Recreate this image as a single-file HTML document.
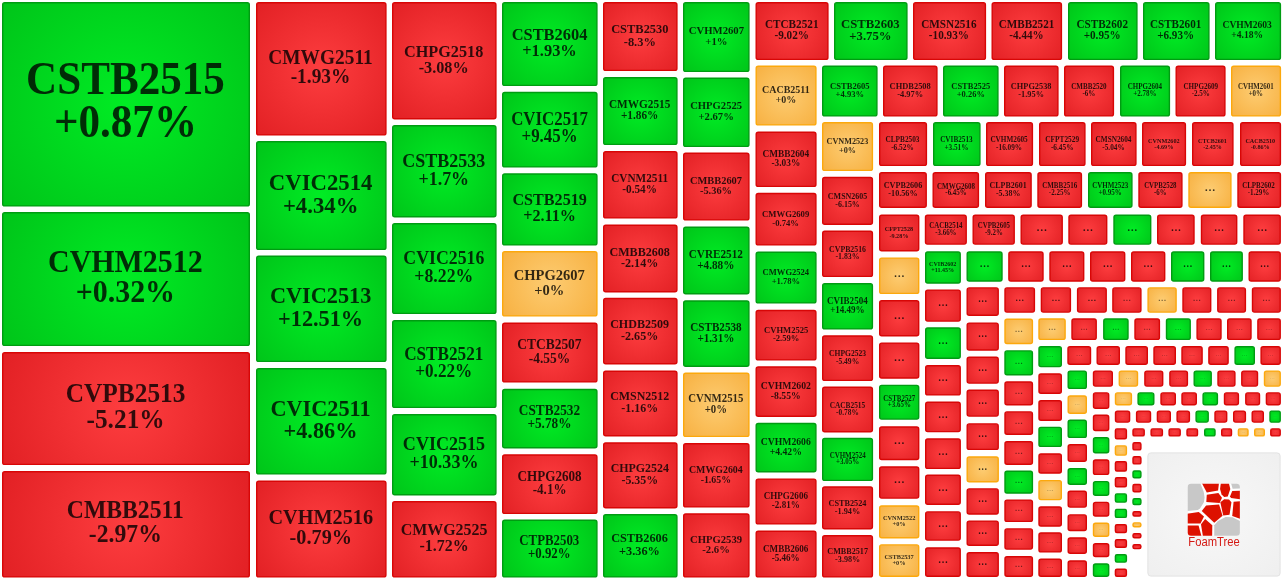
<!DOCTYPE html>
<html><head><meta charset="utf-8"><title>FoamTree</title>
<style>
html,body{margin:0;padding:0;background:#fff;overflow:hidden;}
svg{display:block;}
.t{font-family:"Liberation Serif",serif;font-weight:bold;fill:rgba(0,0,0,0.8);text-anchor:middle;}
</style></head><body>
<svg width="1285" height="579" viewBox="0 0 1285 579">
<defs>
<radialGradient id="glogo" cx="0.5" cy="0.5" r="0.72"><stop offset="0" stop-color="#f8f8f8"/><stop offset="1" stop-color="#efefef"/></radialGradient>
</defs>
<defs>
<radialGradient id="q0" gradientUnits="userSpaceOnUse" cx="126" cy="104.3" r="160.75"><stop offset="0" stop-color="#00ec24"/><stop offset="1" stop-color="#00c419"/></radialGradient>
<radialGradient id="q1" gradientUnits="userSpaceOnUse" cx="126" cy="279.05" r="140.97"><stop offset="0" stop-color="#00ec24"/><stop offset="1" stop-color="#00c419"/></radialGradient>
<radialGradient id="q2" gradientUnits="userSpaceOnUse" cx="126" cy="408.55" r="136.29"><stop offset="0" stop-color="#fd3d3f"/><stop offset="1" stop-color="#e22024"/></radialGradient>
<radialGradient id="q3" gradientUnits="userSpaceOnUse" cx="126" cy="524.3" r="134.97"><stop offset="0" stop-color="#fd3d3f"/><stop offset="1" stop-color="#e22024"/></radialGradient>
<radialGradient id="q4" gradientUnits="userSpaceOnUse" cx="321.3" cy="68.8" r="93.41"><stop offset="0" stop-color="#fd3d3f"/><stop offset="1" stop-color="#e22024"/></radialGradient>
<radialGradient id="q5" gradientUnits="userSpaceOnUse" cx="321.3" cy="195.55" r="85.09"><stop offset="0" stop-color="#00ec24"/><stop offset="1" stop-color="#00c419"/></radialGradient>
<radialGradient id="q6" gradientUnits="userSpaceOnUse" cx="321.3" cy="308.8" r="84.29"><stop offset="0" stop-color="#00ec24"/><stop offset="1" stop-color="#00c419"/></radialGradient>
<radialGradient id="q7" gradientUnits="userSpaceOnUse" cx="321.3" cy="421.3" r="84.29"><stop offset="0" stop-color="#00ec24"/><stop offset="1" stop-color="#00c419"/></radialGradient>
<radialGradient id="q8" gradientUnits="userSpaceOnUse" cx="321.3" cy="529.05" r="81.37"><stop offset="0" stop-color="#fd3d3f"/><stop offset="1" stop-color="#e22024"/></radialGradient>
<radialGradient id="q9" gradientUnits="userSpaceOnUse" cx="444.3" cy="60.7" r="78.62"><stop offset="0" stop-color="#fd3d3f"/><stop offset="1" stop-color="#e22024"/></radialGradient>
<radialGradient id="q10" gradientUnits="userSpaceOnUse" cx="444.3" cy="171.2" r="69.78"><stop offset="0" stop-color="#00ec24"/><stop offset="1" stop-color="#00c419"/></radialGradient>
<radialGradient id="q11" gradientUnits="userSpaceOnUse" cx="444.3" cy="268.55" r="69.35"><stop offset="0" stop-color="#00ec24"/><stop offset="1" stop-color="#00c419"/></radialGradient>
<radialGradient id="q12" gradientUnits="userSpaceOnUse" cx="444.3" cy="364.05" r="68.38"><stop offset="0" stop-color="#00ec24"/><stop offset="1" stop-color="#00c419"/></radialGradient>
<radialGradient id="q13" gradientUnits="userSpaceOnUse" cx="444.3" cy="454.7" r="66.27"><stop offset="0" stop-color="#00ec24"/><stop offset="1" stop-color="#00c419"/></radialGradient>
<radialGradient id="q14" gradientUnits="userSpaceOnUse" cx="444.3" cy="539.3" r="64.82"><stop offset="0" stop-color="#fd3d3f"/><stop offset="1" stop-color="#e22024"/></radialGradient>
<radialGradient id="q15" gradientUnits="userSpaceOnUse" cx="549.8" cy="44.05" r="63.66"><stop offset="0" stop-color="#00ec24"/><stop offset="1" stop-color="#00c419"/></radialGradient>
<radialGradient id="q16" gradientUnits="userSpaceOnUse" cx="549.8" cy="129.7" r="61"><stop offset="0" stop-color="#00ec24"/><stop offset="1" stop-color="#00c419"/></radialGradient>
<radialGradient id="q17" gradientUnits="userSpaceOnUse" cx="549.8" cy="209.45" r="59.93"><stop offset="0" stop-color="#00ec24"/><stop offset="1" stop-color="#00c419"/></radialGradient>
<radialGradient id="q18" gradientUnits="userSpaceOnUse" cx="549.8" cy="283.8" r="57.97"><stop offset="0" stop-color="#fdcc72"/><stop offset="1" stop-color="#f7b040"/></radialGradient>
<radialGradient id="q19" gradientUnits="userSpaceOnUse" cx="549.8" cy="352.55" r="56.46"><stop offset="0" stop-color="#fd3d3f"/><stop offset="1" stop-color="#e22024"/></radialGradient>
<radialGradient id="q20" gradientUnits="userSpaceOnUse" cx="549.8" cy="418.6" r="56.33"><stop offset="0" stop-color="#00ec24"/><stop offset="1" stop-color="#00c419"/></radialGradient>
<radialGradient id="q21" gradientUnits="userSpaceOnUse" cx="549.8" cy="484.2" r="56.38"><stop offset="0" stop-color="#fd3d3f"/><stop offset="1" stop-color="#e22024"/></radialGradient>
<radialGradient id="q22" gradientUnits="userSpaceOnUse" cx="549.8" cy="548.55" r="55.94"><stop offset="0" stop-color="#00ec24"/><stop offset="1" stop-color="#00c419"/></radialGradient>
<radialGradient id="q23" gradientUnits="userSpaceOnUse" cx="640.3" cy="36.55" r="50.84"><stop offset="0" stop-color="#fd3d3f"/><stop offset="1" stop-color="#e22024"/></radialGradient>
<radialGradient id="q24" gradientUnits="userSpaceOnUse" cx="640.3" cy="111.05" r="50.5"><stop offset="0" stop-color="#00ec24"/><stop offset="1" stop-color="#00c419"/></radialGradient>
<radialGradient id="q25" gradientUnits="userSpaceOnUse" cx="640.3" cy="184.8" r="50.34"><stop offset="0" stop-color="#fd3d3f"/><stop offset="1" stop-color="#e22024"/></radialGradient>
<radialGradient id="q26" gradientUnits="userSpaceOnUse" cx="640.3" cy="258.45" r="50.44"><stop offset="0" stop-color="#fd3d3f"/><stop offset="1" stop-color="#e22024"/></radialGradient>
<radialGradient id="q27" gradientUnits="userSpaceOnUse" cx="640.3" cy="331.1" r="50"><stop offset="0" stop-color="#fd3d3f"/><stop offset="1" stop-color="#e22024"/></radialGradient>
<radialGradient id="q28" gradientUnits="userSpaceOnUse" cx="640.3" cy="403.45" r="49.77"><stop offset="0" stop-color="#fd3d3f"/><stop offset="1" stop-color="#e22024"/></radialGradient>
<radialGradient id="q29" gradientUnits="userSpaceOnUse" cx="640.3" cy="475.35" r="49.84"><stop offset="0" stop-color="#fd3d3f"/><stop offset="1" stop-color="#e22024"/></radialGradient>
<radialGradient id="q30" gradientUnits="userSpaceOnUse" cx="640.3" cy="545.8" r="49.02"><stop offset="0" stop-color="#00ec24"/><stop offset="1" stop-color="#00c419"/></radialGradient>
<radialGradient id="q31" gradientUnits="userSpaceOnUse" cx="716.3" cy="37.05" r="48.35"><stop offset="0" stop-color="#00ec24"/><stop offset="1" stop-color="#00c419"/></radialGradient>
<radialGradient id="q32" gradientUnits="userSpaceOnUse" cx="716.3" cy="112.3" r="48.17"><stop offset="0" stop-color="#00ec24"/><stop offset="1" stop-color="#00c419"/></radialGradient>
<radialGradient id="q33" gradientUnits="userSpaceOnUse" cx="716.3" cy="186.55" r="47.63"><stop offset="0" stop-color="#fd3d3f"/><stop offset="1" stop-color="#e22024"/></radialGradient>
<radialGradient id="q34" gradientUnits="userSpaceOnUse" cx="716.3" cy="260.45" r="47.56"><stop offset="0" stop-color="#00ec24"/><stop offset="1" stop-color="#00c419"/></radialGradient>
<radialGradient id="q35" gradientUnits="userSpaceOnUse" cx="716.3" cy="333.6" r="47.09"><stop offset="0" stop-color="#00ec24"/><stop offset="1" stop-color="#00c419"/></radialGradient>
<radialGradient id="q36" gradientUnits="userSpaceOnUse" cx="716.3" cy="404.8" r="46.39"><stop offset="0" stop-color="#fdcc72"/><stop offset="1" stop-color="#f7b040"/></radialGradient>
<radialGradient id="q37" gradientUnits="userSpaceOnUse" cx="716.3" cy="475.3" r="46.39"><stop offset="0" stop-color="#fd3d3f"/><stop offset="1" stop-color="#e22024"/></radialGradient>
<radialGradient id="q38" gradientUnits="userSpaceOnUse" cx="716.3" cy="545.45" r="46.29"><stop offset="0" stop-color="#fd3d3f"/><stop offset="1" stop-color="#e22024"/></radialGradient>
<radialGradient id="q39" gradientUnits="userSpaceOnUse" cx="786.05" cy="95.55" r="42.85"><stop offset="0" stop-color="#fdcc72"/><stop offset="1" stop-color="#f7b040"/></radialGradient>
<radialGradient id="q40" gradientUnits="userSpaceOnUse" cx="786.05" cy="159.3" r="41.31"><stop offset="0" stop-color="#fd3d3f"/><stop offset="1" stop-color="#e22024"/></radialGradient>
<radialGradient id="q41" gradientUnits="userSpaceOnUse" cx="786.05" cy="219.2" r="40.38"><stop offset="0" stop-color="#fd3d3f"/><stop offset="1" stop-color="#e22024"/></radialGradient>
<radialGradient id="q42" gradientUnits="userSpaceOnUse" cx="786.05" cy="277.55" r="40.15"><stop offset="0" stop-color="#00ec24"/><stop offset="1" stop-color="#00c419"/></radialGradient>
<radialGradient id="q43" gradientUnits="userSpaceOnUse" cx="786.05" cy="335.2" r="39.73"><stop offset="0" stop-color="#fd3d3f"/><stop offset="1" stop-color="#e22024"/></radialGradient>
<radialGradient id="q44" gradientUnits="userSpaceOnUse" cx="786.05" cy="391.6" r="39.67"><stop offset="0" stop-color="#fd3d3f"/><stop offset="1" stop-color="#e22024"/></radialGradient>
<radialGradient id="q45" gradientUnits="userSpaceOnUse" cx="786.05" cy="447.65" r="39.38"><stop offset="0" stop-color="#00ec24"/><stop offset="1" stop-color="#00c419"/></radialGradient>
<radialGradient id="q46" gradientUnits="userSpaceOnUse" cx="786.05" cy="501.5" r="38.3"><stop offset="0" stop-color="#fd3d3f"/><stop offset="1" stop-color="#e22024"/></radialGradient>
<radialGradient id="q47" gradientUnits="userSpaceOnUse" cx="786.05" cy="554.05" r="38.57"><stop offset="0" stop-color="#fd3d3f"/><stop offset="1" stop-color="#e22024"/></radialGradient>
<radialGradient id="q48" gradientUnits="userSpaceOnUse" cx="847.55" cy="146.55" r="35.43"><stop offset="0" stop-color="#fdcc72"/><stop offset="1" stop-color="#f7b040"/></radialGradient>
<radialGradient id="q49" gradientUnits="userSpaceOnUse" cx="847.55" cy="200.85" r="35.09"><stop offset="0" stop-color="#fd3d3f"/><stop offset="1" stop-color="#e22024"/></radialGradient>
<radialGradient id="q50" gradientUnits="userSpaceOnUse" cx="847.55" cy="253.8" r="34.58"><stop offset="0" stop-color="#fd3d3f"/><stop offset="1" stop-color="#e22024"/></radialGradient>
<radialGradient id="q51" gradientUnits="userSpaceOnUse" cx="847.55" cy="306.3" r="34.58"><stop offset="0" stop-color="#00ec24"/><stop offset="1" stop-color="#00c419"/></radialGradient>
<radialGradient id="q52" gradientUnits="userSpaceOnUse" cx="847.55" cy="358.2" r="34.31"><stop offset="0" stop-color="#fd3d3f"/><stop offset="1" stop-color="#e22024"/></radialGradient>
<radialGradient id="q53" gradientUnits="userSpaceOnUse" cx="847.55" cy="409.45" r="34.34"><stop offset="0" stop-color="#fd3d3f"/><stop offset="1" stop-color="#e22024"/></radialGradient>
<radialGradient id="q54" gradientUnits="userSpaceOnUse" cx="847.55" cy="459.45" r="33.49"><stop offset="0" stop-color="#00ec24"/><stop offset="1" stop-color="#00c419"/></radialGradient>
<radialGradient id="q55" gradientUnits="userSpaceOnUse" cx="847.55" cy="507.85" r="33.42"><stop offset="0" stop-color="#fd3d3f"/><stop offset="1" stop-color="#e22024"/></radialGradient>
<radialGradient id="q56" gradientUnits="userSpaceOnUse" cx="847.55" cy="556.3" r="33.26"><stop offset="0" stop-color="#fd3d3f"/><stop offset="1" stop-color="#e22024"/></radialGradient>
<radialGradient id="q57" gradientUnits="userSpaceOnUse" cx="899.2" cy="232.95" r="27.36"><stop offset="0" stop-color="#fd3d3f"/><stop offset="1" stop-color="#e22024"/></radialGradient>
<radialGradient id="q58" gradientUnits="userSpaceOnUse" cx="899.2" cy="275.75" r="27.29"><stop offset="0" stop-color="#fdcc72"/><stop offset="1" stop-color="#f7b040"/></radialGradient>
<radialGradient id="q59" gradientUnits="userSpaceOnUse" cx="899.2" cy="318.25" r="27.16"><stop offset="0" stop-color="#fd3d3f"/><stop offset="1" stop-color="#e22024"/></radialGradient>
<radialGradient id="q60" gradientUnits="userSpaceOnUse" cx="899.2" cy="360.55" r="27.16"><stop offset="0" stop-color="#fd3d3f"/><stop offset="1" stop-color="#e22024"/></radialGradient>
<radialGradient id="q61" gradientUnits="userSpaceOnUse" cx="899.2" cy="402.25" r="26.76"><stop offset="0" stop-color="#00ec24"/><stop offset="1" stop-color="#00c419"/></radialGradient>
<radialGradient id="q62" gradientUnits="userSpaceOnUse" cx="899.2" cy="443.25" r="26.37"><stop offset="0" stop-color="#fd3d3f"/><stop offset="1" stop-color="#e22024"/></radialGradient>
<radialGradient id="q63" gradientUnits="userSpaceOnUse" cx="899.2" cy="482.55" r="25.92"><stop offset="0" stop-color="#fd3d3f"/><stop offset="1" stop-color="#e22024"/></radialGradient>
<radialGradient id="q64" gradientUnits="userSpaceOnUse" cx="899.2" cy="521.9" r="26.15"><stop offset="0" stop-color="#fdcc72"/><stop offset="1" stop-color="#f7b040"/></radialGradient>
<radialGradient id="q65" gradientUnits="userSpaceOnUse" cx="899.2" cy="560.6" r="26.02"><stop offset="0" stop-color="#fdcc72"/><stop offset="1" stop-color="#f7b040"/></radialGradient>
<radialGradient id="q66" gradientUnits="userSpaceOnUse" cx="942.95" cy="267.5" r="24.18"><stop offset="0" stop-color="#00ec24"/><stop offset="1" stop-color="#00c419"/></radialGradient>
<radialGradient id="q67" gradientUnits="userSpaceOnUse" cx="942.95" cy="305.6" r="24.18"><stop offset="0" stop-color="#fd3d3f"/><stop offset="1" stop-color="#e22024"/></radialGradient>
<radialGradient id="q68" gradientUnits="userSpaceOnUse" cx="942.95" cy="343.1" r="23.91"><stop offset="0" stop-color="#00ec24"/><stop offset="1" stop-color="#00c419"/></radialGradient>
<radialGradient id="q69" gradientUnits="userSpaceOnUse" cx="942.95" cy="380.3" r="23.59"><stop offset="0" stop-color="#fd3d3f"/><stop offset="1" stop-color="#e22024"/></radialGradient>
<radialGradient id="q70" gradientUnits="userSpaceOnUse" cx="942.95" cy="416.9" r="23.65"><stop offset="0" stop-color="#fd3d3f"/><stop offset="1" stop-color="#e22024"/></radialGradient>
<radialGradient id="q71" gradientUnits="userSpaceOnUse" cx="942.95" cy="453.7" r="23.65"><stop offset="0" stop-color="#fd3d3f"/><stop offset="1" stop-color="#e22024"/></radialGradient>
<radialGradient id="q72" gradientUnits="userSpaceOnUse" cx="942.95" cy="489.75" r="23.55"><stop offset="0" stop-color="#fd3d3f"/><stop offset="1" stop-color="#e22024"/></radialGradient>
<radialGradient id="q73" gradientUnits="userSpaceOnUse" cx="942.95" cy="526" r="23.26"><stop offset="0" stop-color="#fd3d3f"/><stop offset="1" stop-color="#e22024"/></radialGradient>
<radialGradient id="q74" gradientUnits="userSpaceOnUse" cx="942.95" cy="562.15" r="23.3"><stop offset="0" stop-color="#fd3d3f"/><stop offset="1" stop-color="#e22024"/></radialGradient>
<radialGradient id="q75" gradientUnits="userSpaceOnUse" cx="982.7" cy="301.6" r="21.67"><stop offset="0" stop-color="#fd3d3f"/><stop offset="1" stop-color="#e22024"/></radialGradient>
<radialGradient id="q76" gradientUnits="userSpaceOnUse" cx="982.7" cy="336.55" r="21.51"><stop offset="0" stop-color="#fd3d3f"/><stop offset="1" stop-color="#e22024"/></radialGradient>
<radialGradient id="q77" gradientUnits="userSpaceOnUse" cx="982.7" cy="370.2" r="21.15"><stop offset="0" stop-color="#fd3d3f"/><stop offset="1" stop-color="#e22024"/></radialGradient>
<radialGradient id="q78" gradientUnits="userSpaceOnUse" cx="982.7" cy="403.15" r="21.18"><stop offset="0" stop-color="#fd3d3f"/><stop offset="1" stop-color="#e22024"/></radialGradient>
<radialGradient id="q79" gradientUnits="userSpaceOnUse" cx="982.7" cy="436.65" r="21.06"><stop offset="0" stop-color="#fd3d3f"/><stop offset="1" stop-color="#e22024"/></radialGradient>
<radialGradient id="q80" gradientUnits="userSpaceOnUse" cx="982.7" cy="469.4" r="20.83"><stop offset="0" stop-color="#fdcc72"/><stop offset="1" stop-color="#f7b040"/></radialGradient>
<radialGradient id="q81" gradientUnits="userSpaceOnUse" cx="982.7" cy="501.45" r="20.93"><stop offset="0" stop-color="#fd3d3f"/><stop offset="1" stop-color="#e22024"/></radialGradient>
<radialGradient id="q82" gradientUnits="userSpaceOnUse" cx="982.7" cy="533.15" r="20.62"><stop offset="0" stop-color="#fd3d3f"/><stop offset="1" stop-color="#e22024"/></radialGradient>
<radialGradient id="q83" gradientUnits="userSpaceOnUse" cx="982.7" cy="564.5" r="20.46"><stop offset="0" stop-color="#fd3d3f"/><stop offset="1" stop-color="#e22024"/></radialGradient>
<radialGradient id="q84" gradientUnits="userSpaceOnUse" cx="1018.7" cy="331.35" r="19.3"><stop offset="0" stop-color="#fdcc72"/><stop offset="1" stop-color="#f7b040"/></radialGradient>
<radialGradient id="q85" gradientUnits="userSpaceOnUse" cx="1018.7" cy="362.85" r="19.17"><stop offset="0" stop-color="#00ec24"/><stop offset="1" stop-color="#00c419"/></radialGradient>
<radialGradient id="q86" gradientUnits="userSpaceOnUse" cx="1018.7" cy="393.4" r="18.81"><stop offset="0" stop-color="#fd3d3f"/><stop offset="1" stop-color="#e22024"/></radialGradient>
<radialGradient id="q87" gradientUnits="userSpaceOnUse" cx="1018.7" cy="423.05" r="18.65"><stop offset="0" stop-color="#fd3d3f"/><stop offset="1" stop-color="#e22024"/></radialGradient>
<radialGradient id="q88" gradientUnits="userSpaceOnUse" cx="1018.7" cy="453" r="18.68"><stop offset="0" stop-color="#fd3d3f"/><stop offset="1" stop-color="#e22024"/></radialGradient>
<radialGradient id="q89" gradientUnits="userSpaceOnUse" cx="1018.7" cy="482.15" r="18.46"><stop offset="0" stop-color="#00ec24"/><stop offset="1" stop-color="#00c419"/></radialGradient>
<radialGradient id="q90" gradientUnits="userSpaceOnUse" cx="1018.7" cy="510.75" r="18.34"><stop offset="0" stop-color="#fd3d3f"/><stop offset="1" stop-color="#e22024"/></radialGradient>
<radialGradient id="q91" gradientUnits="userSpaceOnUse" cx="1018.7" cy="539" r="18"><stop offset="0" stop-color="#fd3d3f"/><stop offset="1" stop-color="#e22024"/></radialGradient>
<radialGradient id="q92" gradientUnits="userSpaceOnUse" cx="1018.7" cy="566.55" r="17.79"><stop offset="0" stop-color="#fd3d3f"/><stop offset="1" stop-color="#e22024"/></radialGradient>
<radialGradient id="q93" gradientUnits="userSpaceOnUse" cx="1050.15" cy="356.7" r="15.9"><stop offset="0" stop-color="#00ec24"/><stop offset="1" stop-color="#00c419"/></radialGradient>
<radialGradient id="q94" gradientUnits="userSpaceOnUse" cx="1050.15" cy="383.6" r="15.7"><stop offset="0" stop-color="#fd3d3f"/><stop offset="1" stop-color="#e22024"/></radialGradient>
<radialGradient id="q95" gradientUnits="userSpaceOnUse" cx="1050.15" cy="410.5" r="15.77"><stop offset="0" stop-color="#fd3d3f"/><stop offset="1" stop-color="#e22024"/></radialGradient>
<radialGradient id="q96" gradientUnits="userSpaceOnUse" cx="1050.15" cy="436.9" r="15.64"><stop offset="0" stop-color="#00ec24"/><stop offset="1" stop-color="#00c419"/></radialGradient>
<radialGradient id="q97" gradientUnits="userSpaceOnUse" cx="1050.15" cy="463.5" r="15.64"><stop offset="0" stop-color="#fd3d3f"/><stop offset="1" stop-color="#e22024"/></radialGradient>
<radialGradient id="q98" gradientUnits="userSpaceOnUse" cx="1050.15" cy="490.1" r="15.64"><stop offset="0" stop-color="#fdcc72"/><stop offset="1" stop-color="#f7b040"/></radialGradient>
<radialGradient id="q99" gradientUnits="userSpaceOnUse" cx="1050.15" cy="516.5" r="15.64"><stop offset="0" stop-color="#fd3d3f"/><stop offset="1" stop-color="#e22024"/></radialGradient>
<radialGradient id="q100" gradientUnits="userSpaceOnUse" cx="1050.15" cy="542.45" r="15.6"><stop offset="0" stop-color="#fd3d3f"/><stop offset="1" stop-color="#e22024"/></radialGradient>
<radialGradient id="q101" gradientUnits="userSpaceOnUse" cx="1050.15" cy="567.75" r="15.03"><stop offset="0" stop-color="#fd3d3f"/><stop offset="1" stop-color="#e22024"/></radialGradient>
<radialGradient id="q102" gradientUnits="userSpaceOnUse" cx="1077.25" cy="379.75" r="13.51"><stop offset="0" stop-color="#00ec24"/><stop offset="1" stop-color="#00c419"/></radialGradient>
<radialGradient id="q103" gradientUnits="userSpaceOnUse" cx="1077.25" cy="404.6" r="13.47"><stop offset="0" stop-color="#fdcc72"/><stop offset="1" stop-color="#f7b040"/></radialGradient>
<radialGradient id="q104" gradientUnits="userSpaceOnUse" cx="1077.25" cy="428.85" r="13.44"><stop offset="0" stop-color="#00ec24"/><stop offset="1" stop-color="#00c419"/></radialGradient>
<radialGradient id="q105" gradientUnits="userSpaceOnUse" cx="1077.25" cy="453" r="13.27"><stop offset="0" stop-color="#fd3d3f"/><stop offset="1" stop-color="#e22024"/></radialGradient>
<radialGradient id="q106" gradientUnits="userSpaceOnUse" cx="1077.25" cy="476.5" r="12.93"><stop offset="0" stop-color="#00ec24"/><stop offset="1" stop-color="#00c419"/></radialGradient>
<radialGradient id="q107" gradientUnits="userSpaceOnUse" cx="1077.25" cy="499.2" r="13"><stop offset="0" stop-color="#fd3d3f"/><stop offset="1" stop-color="#e22024"/></radialGradient>
<radialGradient id="q108" gradientUnits="userSpaceOnUse" cx="1077.25" cy="522.7" r="12.93"><stop offset="0" stop-color="#fd3d3f"/><stop offset="1" stop-color="#e22024"/></radialGradient>
<radialGradient id="q109" gradientUnits="userSpaceOnUse" cx="1077.25" cy="545.65" r="12.84"><stop offset="0" stop-color="#fd3d3f"/><stop offset="1" stop-color="#e22024"/></radialGradient>
<radialGradient id="q110" gradientUnits="userSpaceOnUse" cx="1077.25" cy="568.65" r="12.84"><stop offset="0" stop-color="#fd3d3f"/><stop offset="1" stop-color="#e22024"/></radialGradient>
<radialGradient id="q111" gradientUnits="userSpaceOnUse" cx="1101.1" cy="400.55" r="11.77"><stop offset="0" stop-color="#fd3d3f"/><stop offset="1" stop-color="#e22024"/></radialGradient>
<radialGradient id="q112" gradientUnits="userSpaceOnUse" cx="1101.1" cy="422.9" r="11.74"><stop offset="0" stop-color="#fd3d3f"/><stop offset="1" stop-color="#e22024"/></radialGradient>
<radialGradient id="q113" gradientUnits="userSpaceOnUse" cx="1101.1" cy="445.2" r="11.67"><stop offset="0" stop-color="#00ec24"/><stop offset="1" stop-color="#00c419"/></radialGradient>
<radialGradient id="q114" gradientUnits="userSpaceOnUse" cx="1101.1" cy="467.2" r="11.46"><stop offset="0" stop-color="#fd3d3f"/><stop offset="1" stop-color="#e22024"/></radialGradient>
<radialGradient id="q115" gradientUnits="userSpaceOnUse" cx="1101.1" cy="488.45" r="11.22"><stop offset="0" stop-color="#00ec24"/><stop offset="1" stop-color="#00c419"/></radialGradient>
<radialGradient id="q116" gradientUnits="userSpaceOnUse" cx="1101.1" cy="509.2" r="11.19"><stop offset="0" stop-color="#fd3d3f"/><stop offset="1" stop-color="#e22024"/></radialGradient>
<radialGradient id="q117" gradientUnits="userSpaceOnUse" cx="1101.1" cy="529.8" r="10.99"><stop offset="0" stop-color="#fdcc72"/><stop offset="1" stop-color="#f7b040"/></radialGradient>
<radialGradient id="q118" gradientUnits="userSpaceOnUse" cx="1101.1" cy="550.1" r="10.92"><stop offset="0" stop-color="#fd3d3f"/><stop offset="1" stop-color="#e22024"/></radialGradient>
<radialGradient id="q119" gradientUnits="userSpaceOnUse" cx="1101.1" cy="570.15" r="10.76"><stop offset="0" stop-color="#00ec24"/><stop offset="1" stop-color="#00c419"/></radialGradient>
<radialGradient id="q120" gradientUnits="userSpaceOnUse" cx="1120.9" cy="433.85" r="8.39"><stop offset="0" stop-color="#fd3d3f"/><stop offset="1" stop-color="#e22024"/></radialGradient>
<radialGradient id="q121" gradientUnits="userSpaceOnUse" cx="1120.9" cy="450.5" r="8.16"><stop offset="0" stop-color="#fdcc72"/><stop offset="1" stop-color="#f7b040"/></radialGradient>
<radialGradient id="q122" gradientUnits="userSpaceOnUse" cx="1120.9" cy="466.4" r="8.16"><stop offset="0" stop-color="#fd3d3f"/><stop offset="1" stop-color="#e22024"/></radialGradient>
<radialGradient id="q123" gradientUnits="userSpaceOnUse" cx="1120.9" cy="482.2" r="8.09"><stop offset="0" stop-color="#fd3d3f"/><stop offset="1" stop-color="#e22024"/></radialGradient>
<radialGradient id="q124" gradientUnits="userSpaceOnUse" cx="1120.9" cy="498" r="7.84"><stop offset="0" stop-color="#00ec24"/><stop offset="1" stop-color="#00c419"/></radialGradient>
<radialGradient id="q125" gradientUnits="userSpaceOnUse" cx="1120.9" cy="513.4" r="7.78"><stop offset="0" stop-color="#00ec24"/><stop offset="1" stop-color="#00c419"/></radialGradient>
<radialGradient id="q126" gradientUnits="userSpaceOnUse" cx="1120.9" cy="528.6" r="7.72"><stop offset="0" stop-color="#fd3d3f"/><stop offset="1" stop-color="#e22024"/></radialGradient>
<radialGradient id="q127" gradientUnits="userSpaceOnUse" cx="1120.9" cy="543.45" r="7.63"><stop offset="0" stop-color="#fd3d3f"/><stop offset="1" stop-color="#e22024"/></radialGradient>
<radialGradient id="q128" gradientUnits="userSpaceOnUse" cx="1120.9" cy="558.45" r="7.57"><stop offset="0" stop-color="#00ec24"/><stop offset="1" stop-color="#00c419"/></radialGradient>
<radialGradient id="q129" gradientUnits="userSpaceOnUse" cx="1120.9" cy="572.8" r="7.49"><stop offset="0" stop-color="#fd3d3f"/><stop offset="1" stop-color="#e22024"/></radialGradient>
<radialGradient id="q130" gradientUnits="userSpaceOnUse" cx="1136.95" cy="446.35" r="6.3"><stop offset="0" stop-color="#fd3d3f"/><stop offset="1" stop-color="#e22024"/></radialGradient>
<radialGradient id="q131" gradientUnits="userSpaceOnUse" cx="1136.95" cy="460.3" r="6.33"><stop offset="0" stop-color="#fd3d3f"/><stop offset="1" stop-color="#e22024"/></radialGradient>
<radialGradient id="q132" gradientUnits="userSpaceOnUse" cx="1136.95" cy="474.4" r="6.2"><stop offset="0" stop-color="#00ec24"/><stop offset="1" stop-color="#00c419"/></radialGradient>
<radialGradient id="q133" gradientUnits="userSpaceOnUse" cx="1136.95" cy="488.1" r="6.33"><stop offset="0" stop-color="#fd3d3f"/><stop offset="1" stop-color="#e22024"/></radialGradient>
<radialGradient id="q134" gradientUnits="userSpaceOnUse" cx="1136.95" cy="501.6" r="5.88"><stop offset="0" stop-color="#00ec24"/><stop offset="1" stop-color="#00c419"/></radialGradient>
<radialGradient id="q135" gradientUnits="userSpaceOnUse" cx="1136.95" cy="513.85" r="5.45"><stop offset="0" stop-color="#fd3d3f"/><stop offset="1" stop-color="#e22024"/></radialGradient>
<radialGradient id="q136" gradientUnits="userSpaceOnUse" cx="1136.95" cy="524.85" r="5.35"><stop offset="0" stop-color="#fdcc72"/><stop offset="1" stop-color="#f7b040"/></radialGradient>
<radialGradient id="q137" gradientUnits="userSpaceOnUse" cx="1136.95" cy="535.75" r="5.35"><stop offset="0" stop-color="#fd3d3f"/><stop offset="1" stop-color="#e22024"/></radialGradient>
<radialGradient id="q138" gradientUnits="userSpaceOnUse" cx="1136.95" cy="546.65" r="5.35"><stop offset="0" stop-color="#fd3d3f"/><stop offset="1" stop-color="#e22024"/></radialGradient>
<radialGradient id="q139" gradientUnits="userSpaceOnUse" cx="792.05" cy="31.05" r="46.69"><stop offset="0" stop-color="#fd3d3f"/><stop offset="1" stop-color="#e22024"/></radialGradient>
<radialGradient id="q140" gradientUnits="userSpaceOnUse" cx="870.8" cy="31.05" r="46.88"><stop offset="0" stop-color="#00ec24"/><stop offset="1" stop-color="#00c419"/></radialGradient>
<radialGradient id="q141" gradientUnits="userSpaceOnUse" cx="949.55" cy="31.05" r="46.69"><stop offset="0" stop-color="#fd3d3f"/><stop offset="1" stop-color="#e22024"/></radialGradient>
<radialGradient id="q142" gradientUnits="userSpaceOnUse" cx="1026.8" cy="31.05" r="45.72"><stop offset="0" stop-color="#fd3d3f"/><stop offset="1" stop-color="#e22024"/></radialGradient>
<radialGradient id="q143" gradientUnits="userSpaceOnUse" cx="1102.8" cy="31.05" r="45.33"><stop offset="0" stop-color="#00ec24"/><stop offset="1" stop-color="#00c419"/></radialGradient>
<radialGradient id="q144" gradientUnits="userSpaceOnUse" cx="1176.3" cy="31.05" r="44.19"><stop offset="0" stop-color="#00ec24"/><stop offset="1" stop-color="#00c419"/></radialGradient>
<radialGradient id="q145" gradientUnits="userSpaceOnUse" cx="1248.05" cy="31.05" r="44"><stop offset="0" stop-color="#00ec24"/><stop offset="1" stop-color="#00c419"/></radialGradient>
<radialGradient id="q146" gradientUnits="userSpaceOnUse" cx="849.8" cy="91.05" r="37.76"><stop offset="0" stop-color="#00ec24"/><stop offset="1" stop-color="#00c419"/></radialGradient>
<radialGradient id="q147" gradientUnits="userSpaceOnUse" cx="910.3" cy="91.05" r="37.39"><stop offset="0" stop-color="#fd3d3f"/><stop offset="1" stop-color="#e22024"/></radialGradient>
<radialGradient id="q148" gradientUnits="userSpaceOnUse" cx="970.8" cy="91.05" r="37.76"><stop offset="0" stop-color="#00ec24"/><stop offset="1" stop-color="#00c419"/></radialGradient>
<radialGradient id="q149" gradientUnits="userSpaceOnUse" cx="1031.3" cy="91.05" r="37.39"><stop offset="0" stop-color="#fd3d3f"/><stop offset="1" stop-color="#e22024"/></radialGradient>
<radialGradient id="q150" gradientUnits="userSpaceOnUse" cx="1089.05" cy="91.05" r="35.78"><stop offset="0" stop-color="#fd3d3f"/><stop offset="1" stop-color="#e22024"/></radialGradient>
<radialGradient id="q151" gradientUnits="userSpaceOnUse" cx="1145.05" cy="91.05" r="35.78"><stop offset="0" stop-color="#00ec24"/><stop offset="1" stop-color="#00c419"/></radialGradient>
<radialGradient id="q152" gradientUnits="userSpaceOnUse" cx="1200.55" cy="91.05" r="35.78"><stop offset="0" stop-color="#fd3d3f"/><stop offset="1" stop-color="#e22024"/></radialGradient>
<radialGradient id="q153" gradientUnits="userSpaceOnUse" cx="1256.05" cy="91.05" r="35.78"><stop offset="0" stop-color="#fdcc72"/><stop offset="1" stop-color="#f7b040"/></radialGradient>
<radialGradient id="q154" gradientUnits="userSpaceOnUse" cx="903.05" cy="144.05" r="32.63"><stop offset="0" stop-color="#fd3d3f"/><stop offset="1" stop-color="#e22024"/></radialGradient>
<radialGradient id="q155" gradientUnits="userSpaceOnUse" cx="956.8" cy="144.05" r="32.44"><stop offset="0" stop-color="#00ec24"/><stop offset="1" stop-color="#00c419"/></radialGradient>
<radialGradient id="q156" gradientUnits="userSpaceOnUse" cx="1009.55" cy="144.05" r="32.26"><stop offset="0" stop-color="#fd3d3f"/><stop offset="1" stop-color="#e22024"/></radialGradient>
<radialGradient id="q157" gradientUnits="userSpaceOnUse" cx="1062.3" cy="144.05" r="32.08"><stop offset="0" stop-color="#fd3d3f"/><stop offset="1" stop-color="#e22024"/></radialGradient>
<radialGradient id="q158" gradientUnits="userSpaceOnUse" cx="1113.8" cy="144.05" r="31.72"><stop offset="0" stop-color="#fd3d3f"/><stop offset="1" stop-color="#e22024"/></radialGradient>
<radialGradient id="q159" gradientUnits="userSpaceOnUse" cx="1164.05" cy="144.05" r="31.18"><stop offset="0" stop-color="#fd3d3f"/><stop offset="1" stop-color="#e22024"/></radialGradient>
<radialGradient id="q160" gradientUnits="userSpaceOnUse" cx="1212.8" cy="144.05" r="30.31"><stop offset="0" stop-color="#fd3d3f"/><stop offset="1" stop-color="#e22024"/></radialGradient>
<radialGradient id="q161" gradientUnits="userSpaceOnUse" cx="1260.55" cy="144.05" r="30.14"><stop offset="0" stop-color="#fd3d3f"/><stop offset="1" stop-color="#e22024"/></radialGradient>
<radialGradient id="q162" gradientUnits="userSpaceOnUse" cx="902.95" cy="190" r="29.96"><stop offset="0" stop-color="#fd3d3f"/><stop offset="1" stop-color="#e22024"/></radialGradient>
<radialGradient id="q163" gradientUnits="userSpaceOnUse" cx="955.8" cy="190" r="29.44"><stop offset="0" stop-color="#fd3d3f"/><stop offset="1" stop-color="#e22024"/></radialGradient>
<radialGradient id="q164" gradientUnits="userSpaceOnUse" cx="1008.4" cy="190" r="29.52"><stop offset="0" stop-color="#fd3d3f"/><stop offset="1" stop-color="#e22024"/></radialGradient>
<radialGradient id="q165" gradientUnits="userSpaceOnUse" cx="1059.7" cy="190" r="28.74"><stop offset="0" stop-color="#fd3d3f"/><stop offset="1" stop-color="#e22024"/></radialGradient>
<radialGradient id="q166" gradientUnits="userSpaceOnUse" cx="1110.3" cy="190" r="28.66"><stop offset="0" stop-color="#00ec24"/><stop offset="1" stop-color="#00c419"/></radialGradient>
<radialGradient id="q167" gradientUnits="userSpaceOnUse" cx="1160.45" cy="190" r="28.54"><stop offset="0" stop-color="#fd3d3f"/><stop offset="1" stop-color="#e22024"/></radialGradient>
<radialGradient id="q168" gradientUnits="userSpaceOnUse" cx="1209.95" cy="190" r="28.16"><stop offset="0" stop-color="#fdcc72"/><stop offset="1" stop-color="#f7b040"/></radialGradient>
<radialGradient id="q169" gradientUnits="userSpaceOnUse" cx="1259.2" cy="190" r="28.35"><stop offset="0" stop-color="#fd3d3f"/><stop offset="1" stop-color="#e22024"/></radialGradient>
<radialGradient id="q170" gradientUnits="userSpaceOnUse" cx="945.85" cy="229.65" r="25.94"><stop offset="0" stop-color="#fd3d3f"/><stop offset="1" stop-color="#e22024"/></radialGradient>
<radialGradient id="q171" gradientUnits="userSpaceOnUse" cx="993.7" cy="229.65" r="26.06"><stop offset="0" stop-color="#fd3d3f"/><stop offset="1" stop-color="#e22024"/></radialGradient>
<radialGradient id="q172" gradientUnits="userSpaceOnUse" cx="1041.7" cy="229.65" r="26.06"><stop offset="0" stop-color="#fd3d3f"/><stop offset="1" stop-color="#e22024"/></radialGradient>
<radialGradient id="q173" gradientUnits="userSpaceOnUse" cx="1087.85" cy="229.65" r="24.73"><stop offset="0" stop-color="#fd3d3f"/><stop offset="1" stop-color="#e22024"/></radialGradient>
<radialGradient id="q174" gradientUnits="userSpaceOnUse" cx="1132.35" cy="229.65" r="24.34"><stop offset="0" stop-color="#00ec24"/><stop offset="1" stop-color="#00c419"/></radialGradient>
<radialGradient id="q175" gradientUnits="userSpaceOnUse" cx="1175.85" cy="229.65" r="24.18"><stop offset="0" stop-color="#fd3d3f"/><stop offset="1" stop-color="#e22024"/></radialGradient>
<radialGradient id="q176" gradientUnits="userSpaceOnUse" cx="1219.1" cy="229.65" r="23.76"><stop offset="0" stop-color="#fd3d3f"/><stop offset="1" stop-color="#e22024"/></radialGradient>
<radialGradient id="q177" gradientUnits="userSpaceOnUse" cx="1262.1" cy="229.65" r="24.14"><stop offset="0" stop-color="#fd3d3f"/><stop offset="1" stop-color="#e22024"/></radialGradient>
<radialGradient id="q178" gradientUnits="userSpaceOnUse" cx="984.6" cy="266.5" r="23.64"><stop offset="0" stop-color="#00ec24"/><stop offset="1" stop-color="#00c419"/></radialGradient>
<radialGradient id="q179" gradientUnits="userSpaceOnUse" cx="1025.95" cy="266.5" r="23.37"><stop offset="0" stop-color="#fd3d3f"/><stop offset="1" stop-color="#e22024"/></radialGradient>
<radialGradient id="q180" gradientUnits="userSpaceOnUse" cx="1066.85" cy="266.5" r="23.22"><stop offset="0" stop-color="#fd3d3f"/><stop offset="1" stop-color="#e22024"/></radialGradient>
<radialGradient id="q181" gradientUnits="userSpaceOnUse" cx="1107.7" cy="266.5" r="23.33"><stop offset="0" stop-color="#fd3d3f"/><stop offset="1" stop-color="#e22024"/></radialGradient>
<radialGradient id="q182" gradientUnits="userSpaceOnUse" cx="1148.2" cy="266.5" r="22.95"><stop offset="0" stop-color="#fd3d3f"/><stop offset="1" stop-color="#e22024"/></radialGradient>
<radialGradient id="q183" gradientUnits="userSpaceOnUse" cx="1187.7" cy="266.5" r="22.58"><stop offset="0" stop-color="#00ec24"/><stop offset="1" stop-color="#00c419"/></radialGradient>
<radialGradient id="q184" gradientUnits="userSpaceOnUse" cx="1226.45" cy="266.5" r="22.4"><stop offset="0" stop-color="#00ec24"/><stop offset="1" stop-color="#00c419"/></radialGradient>
<radialGradient id="q185" gradientUnits="userSpaceOnUse" cx="1264.7" cy="266.5" r="22.21"><stop offset="0" stop-color="#fd3d3f"/><stop offset="1" stop-color="#e22024"/></radialGradient>
<radialGradient id="q186" gradientUnits="userSpaceOnUse" cx="1019.7" cy="300" r="20.02"><stop offset="0" stop-color="#fd3d3f"/><stop offset="1" stop-color="#e22024"/></radialGradient>
<radialGradient id="q187" gradientUnits="userSpaceOnUse" cx="1055.9" cy="300" r="19.87"><stop offset="0" stop-color="#fd3d3f"/><stop offset="1" stop-color="#e22024"/></radialGradient>
<radialGradient id="q188" gradientUnits="userSpaceOnUse" cx="1091.9" cy="300" r="19.72"><stop offset="0" stop-color="#fd3d3f"/><stop offset="1" stop-color="#e22024"/></radialGradient>
<radialGradient id="q189" gradientUnits="userSpaceOnUse" cx="1126.9" cy="300" r="19.49"><stop offset="0" stop-color="#fd3d3f"/><stop offset="1" stop-color="#e22024"/></radialGradient>
<radialGradient id="q190" gradientUnits="userSpaceOnUse" cx="1162.1" cy="300" r="19.49"><stop offset="0" stop-color="#fdcc72"/><stop offset="1" stop-color="#f7b040"/></radialGradient>
<radialGradient id="q191" gradientUnits="userSpaceOnUse" cx="1196.85" cy="300" r="19.38"><stop offset="0" stop-color="#fd3d3f"/><stop offset="1" stop-color="#e22024"/></radialGradient>
<radialGradient id="q192" gradientUnits="userSpaceOnUse" cx="1231.6" cy="300" r="19.34"><stop offset="0" stop-color="#fd3d3f"/><stop offset="1" stop-color="#e22024"/></radialGradient>
<radialGradient id="q193" gradientUnits="userSpaceOnUse" cx="1266.35" cy="300" r="19.38"><stop offset="0" stop-color="#fd3d3f"/><stop offset="1" stop-color="#e22024"/></radialGradient>
<radialGradient id="q194" gradientUnits="userSpaceOnUse" cx="1052.05" cy="329.2" r="17.55"><stop offset="0" stop-color="#fdcc72"/><stop offset="1" stop-color="#f7b040"/></radialGradient>
<radialGradient id="q195" gradientUnits="userSpaceOnUse" cx="1084.1" cy="329.2" r="16.81"><stop offset="0" stop-color="#fd3d3f"/><stop offset="1" stop-color="#e22024"/></radialGradient>
<radialGradient id="q196" gradientUnits="userSpaceOnUse" cx="1115.9" cy="329.2" r="16.81"><stop offset="0" stop-color="#00ec24"/><stop offset="1" stop-color="#00c419"/></radialGradient>
<radialGradient id="q197" gradientUnits="userSpaceOnUse" cx="1147.2" cy="329.2" r="16.89"><stop offset="0" stop-color="#fd3d3f"/><stop offset="1" stop-color="#e22024"/></radialGradient>
<radialGradient id="q198" gradientUnits="userSpaceOnUse" cx="1178.35" cy="329.2" r="16.62"><stop offset="0" stop-color="#00ec24"/><stop offset="1" stop-color="#00c419"/></radialGradient>
<radialGradient id="q199" gradientUnits="userSpaceOnUse" cx="1209.05" cy="329.2" r="16.7"><stop offset="0" stop-color="#fd3d3f"/><stop offset="1" stop-color="#e22024"/></radialGradient>
<radialGradient id="q200" gradientUnits="userSpaceOnUse" cx="1239.35" cy="329.2" r="16.47"><stop offset="0" stop-color="#fd3d3f"/><stop offset="1" stop-color="#e22024"/></radialGradient>
<radialGradient id="q201" gradientUnits="userSpaceOnUse" cx="1269.05" cy="329.2" r="16.1"><stop offset="0" stop-color="#fd3d3f"/><stop offset="1" stop-color="#e22024"/></radialGradient>
<radialGradient id="q202" gradientUnits="userSpaceOnUse" cx="1079.25" cy="355.5" r="15.2"><stop offset="0" stop-color="#fd3d3f"/><stop offset="1" stop-color="#e22024"/></radialGradient>
<radialGradient id="q203" gradientUnits="userSpaceOnUse" cx="1108.25" cy="355.5" r="15.05"><stop offset="0" stop-color="#fd3d3f"/><stop offset="1" stop-color="#e22024"/></radialGradient>
<radialGradient id="q204" gradientUnits="userSpaceOnUse" cx="1136.65" cy="355.5" r="14.74"><stop offset="0" stop-color="#fd3d3f"/><stop offset="1" stop-color="#e22024"/></radialGradient>
<radialGradient id="q205" gradientUnits="userSpaceOnUse" cx="1164.65" cy="355.5" r="14.74"><stop offset="0" stop-color="#fd3d3f"/><stop offset="1" stop-color="#e22024"/></radialGradient>
<radialGradient id="q206" gradientUnits="userSpaceOnUse" cx="1192.05" cy="355.5" r="14.28"><stop offset="0" stop-color="#fd3d3f"/><stop offset="1" stop-color="#e22024"/></radialGradient>
<radialGradient id="q207" gradientUnits="userSpaceOnUse" cx="1218.5" cy="355.5" r="13.94"><stop offset="0" stop-color="#fd3d3f"/><stop offset="1" stop-color="#e22024"/></radialGradient>
<radialGradient id="q208" gradientUnits="userSpaceOnUse" cx="1244.7" cy="355.5" r="13.94"><stop offset="0" stop-color="#00ec24"/><stop offset="1" stop-color="#00c419"/></radialGradient>
<radialGradient id="q209" gradientUnits="userSpaceOnUse" cx="1270.65" cy="355.5" r="13.91"><stop offset="0" stop-color="#fd3d3f"/><stop offset="1" stop-color="#e22024"/></radialGradient>
<radialGradient id="q210" gradientUnits="userSpaceOnUse" cx="1102.9" cy="378.6" r="13.01"><stop offset="0" stop-color="#fd3d3f"/><stop offset="1" stop-color="#e22024"/></radialGradient>
<radialGradient id="q211" gradientUnits="userSpaceOnUse" cx="1128.4" cy="378.6" r="12.78"><stop offset="0" stop-color="#fdcc72"/><stop offset="1" stop-color="#f7b040"/></radialGradient>
<radialGradient id="q212" gradientUnits="userSpaceOnUse" cx="1153.8" cy="378.6" r="12.63"><stop offset="0" stop-color="#fd3d3f"/><stop offset="1" stop-color="#e22024"/></radialGradient>
<radialGradient id="q213" gradientUnits="userSpaceOnUse" cx="1178.65" cy="378.6" r="12.51"><stop offset="0" stop-color="#fd3d3f"/><stop offset="1" stop-color="#e22024"/></radialGradient>
<radialGradient id="q214" gradientUnits="userSpaceOnUse" cx="1202.7" cy="378.6" r="12.32"><stop offset="0" stop-color="#00ec24"/><stop offset="1" stop-color="#00c419"/></radialGradient>
<radialGradient id="q215" gradientUnits="userSpaceOnUse" cx="1226.45" cy="378.6" r="12.29"><stop offset="0" stop-color="#fd3d3f"/><stop offset="1" stop-color="#e22024"/></radialGradient>
<radialGradient id="q216" gradientUnits="userSpaceOnUse" cx="1249.65" cy="378.6" r="11.85"><stop offset="0" stop-color="#fd3d3f"/><stop offset="1" stop-color="#e22024"/></radialGradient>
<radialGradient id="q217" gradientUnits="userSpaceOnUse" cx="1272.35" cy="378.6" r="11.85"><stop offset="0" stop-color="#fdcc72"/><stop offset="1" stop-color="#f7b040"/></radialGradient>
<radialGradient id="q218" gradientUnits="userSpaceOnUse" cx="1123.45" cy="398.8" r="10.88"><stop offset="0" stop-color="#fdcc72"/><stop offset="1" stop-color="#f7b040"/></radialGradient>
<radialGradient id="q219" gradientUnits="userSpaceOnUse" cx="1145.95" cy="398.8" r="10.8"><stop offset="0" stop-color="#00ec24"/><stop offset="1" stop-color="#00c419"/></radialGradient>
<radialGradient id="q220" gradientUnits="userSpaceOnUse" cx="1168.15" cy="398.8" r="10.26"><stop offset="0" stop-color="#fd3d3f"/><stop offset="1" stop-color="#e22024"/></radialGradient>
<radialGradient id="q221" gradientUnits="userSpaceOnUse" cx="1189.15" cy="398.8" r="10.26"><stop offset="0" stop-color="#fd3d3f"/><stop offset="1" stop-color="#e22024"/></radialGradient>
<radialGradient id="q222" gradientUnits="userSpaceOnUse" cx="1210.25" cy="398.8" r="10.26"><stop offset="0" stop-color="#00ec24"/><stop offset="1" stop-color="#00c419"/></radialGradient>
<radialGradient id="q223" gradientUnits="userSpaceOnUse" cx="1231.45" cy="398.8" r="10.1"><stop offset="0" stop-color="#fd3d3f"/><stop offset="1" stop-color="#e22024"/></radialGradient>
<radialGradient id="q224" gradientUnits="userSpaceOnUse" cx="1252.65" cy="398.8" r="10.03"><stop offset="0" stop-color="#fd3d3f"/><stop offset="1" stop-color="#e22024"/></radialGradient>
<radialGradient id="q225" gradientUnits="userSpaceOnUse" cx="1273.3" cy="398.8" r="10.07"><stop offset="0" stop-color="#fd3d3f"/><stop offset="1" stop-color="#e22024"/></radialGradient>
<radialGradient id="q226" gradientUnits="userSpaceOnUse" cx="1122.55" cy="416.6" r="9.92"><stop offset="0" stop-color="#fd3d3f"/><stop offset="1" stop-color="#e22024"/></radialGradient>
<radialGradient id="q227" gradientUnits="userSpaceOnUse" cx="1143.55" cy="416.6" r="9.85"><stop offset="0" stop-color="#fd3d3f"/><stop offset="1" stop-color="#e22024"/></radialGradient>
<radialGradient id="q228" gradientUnits="userSpaceOnUse" cx="1163.85" cy="416.6" r="9.46"><stop offset="0" stop-color="#fd3d3f"/><stop offset="1" stop-color="#e22024"/></radialGradient>
<radialGradient id="q229" gradientUnits="userSpaceOnUse" cx="1183.25" cy="416.6" r="9.24"><stop offset="0" stop-color="#fd3d3f"/><stop offset="1" stop-color="#e22024"/></radialGradient>
<radialGradient id="q230" gradientUnits="userSpaceOnUse" cx="1202.15" cy="416.6" r="9.17"><stop offset="0" stop-color="#00ec24"/><stop offset="1" stop-color="#00c419"/></radialGradient>
<radialGradient id="q231" gradientUnits="userSpaceOnUse" cx="1220.85" cy="416.6" r="9.02"><stop offset="0" stop-color="#fd3d3f"/><stop offset="1" stop-color="#e22024"/></radialGradient>
<radialGradient id="q232" gradientUnits="userSpaceOnUse" cx="1239.55" cy="416.6" r="9.02"><stop offset="0" stop-color="#fd3d3f"/><stop offset="1" stop-color="#e22024"/></radialGradient>
<radialGradient id="q233" gradientUnits="userSpaceOnUse" cx="1257.75" cy="416.6" r="8.8"><stop offset="0" stop-color="#fd3d3f"/><stop offset="1" stop-color="#e22024"/></radialGradient>
<radialGradient id="q234" gradientUnits="userSpaceOnUse" cx="1275.1" cy="416.6" r="8.49"><stop offset="0" stop-color="#00ec24"/><stop offset="1" stop-color="#00c419"/></radialGradient>
<radialGradient id="q235" gradientUnits="userSpaceOnUse" cx="1138.6" cy="432.4" r="7.57"><stop offset="0" stop-color="#fd3d3f"/><stop offset="1" stop-color="#e22024"/></radialGradient>
<radialGradient id="q236" gradientUnits="userSpaceOnUse" cx="1156.75" cy="432.4" r="7.61"><stop offset="0" stop-color="#fd3d3f"/><stop offset="1" stop-color="#e22024"/></radialGradient>
<radialGradient id="q237" gradientUnits="userSpaceOnUse" cx="1174.65" cy="432.4" r="7.53"><stop offset="0" stop-color="#fd3d3f"/><stop offset="1" stop-color="#e22024"/></radialGradient>
<radialGradient id="q238" gradientUnits="userSpaceOnUse" cx="1192.25" cy="432.4" r="7.28"><stop offset="0" stop-color="#fd3d3f"/><stop offset="1" stop-color="#e22024"/></radialGradient>
<radialGradient id="q239" gradientUnits="userSpaceOnUse" cx="1209.85" cy="432.4" r="7.2"><stop offset="0" stop-color="#00ec24"/><stop offset="1" stop-color="#00c419"/></radialGradient>
<radialGradient id="q240" gradientUnits="userSpaceOnUse" cx="1226.6" cy="432.4" r="7"><stop offset="0" stop-color="#fd3d3f"/><stop offset="1" stop-color="#e22024"/></radialGradient>
<radialGradient id="q241" gradientUnits="userSpaceOnUse" cx="1243.2" cy="432.4" r="6.92"><stop offset="0" stop-color="#fdcc72"/><stop offset="1" stop-color="#f7b040"/></radialGradient>
<radialGradient id="q242" gradientUnits="userSpaceOnUse" cx="1259.5" cy="432.4" r="6.92"><stop offset="0" stop-color="#fdcc72"/><stop offset="1" stop-color="#f7b040"/></radialGradient>
<radialGradient id="q243" gradientUnits="userSpaceOnUse" cx="1275.5" cy="432.4" r="6.84"><stop offset="0" stop-color="#fd3d3f"/><stop offset="1" stop-color="#e22024"/></radialGradient>
</defs>
<rect x="2.7" y="2.7" width="246.6" height="203.2" rx="2" fill="url(#q0)" stroke="#009c12" stroke-width="1.4"/>
<rect x="2.7" y="212.7" width="246.6" height="132.7" rx="2" fill="url(#q1)" stroke="#009c12" stroke-width="1.4"/>
<rect x="2.7" y="352.7" width="246.6" height="111.7" rx="2" fill="url(#q2)" stroke="#d80606" stroke-width="1.4"/>
<rect x="2.7" y="471.7" width="246.6" height="105.2" rx="2" fill="url(#q3)" stroke="#d80606" stroke-width="1.4"/>
<rect x="256.7" y="2.7" width="129.2" height="132.2" rx="2" fill="url(#q4)" stroke="#d80606" stroke-width="1.4"/>
<rect x="256.7" y="141.7" width="129.2" height="107.7" rx="2" fill="url(#q5)" stroke="#009c12" stroke-width="1.4"/>
<rect x="256.7" y="256.2" width="129.2" height="105.2" rx="2" fill="url(#q6)" stroke="#009c12" stroke-width="1.4"/>
<rect x="256.7" y="368.7" width="129.2" height="105.2" rx="2" fill="url(#q7)" stroke="#009c12" stroke-width="1.4"/>
<rect x="256.7" y="481.2" width="129.2" height="95.7" rx="2" fill="url(#q8)" stroke="#d80606" stroke-width="1.4"/>
<rect x="392.7" y="2.7" width="103.2" height="116" rx="2" fill="url(#q9)" stroke="#d80606" stroke-width="1.4"/>
<rect x="392.7" y="125.7" width="103.2" height="91" rx="2" fill="url(#q10)" stroke="#009c12" stroke-width="1.4"/>
<rect x="392.7" y="223.7" width="103.2" height="89.7" rx="2" fill="url(#q11)" stroke="#009c12" stroke-width="1.4"/>
<rect x="392.7" y="320.7" width="103.2" height="86.7" rx="2" fill="url(#q12)" stroke="#009c12" stroke-width="1.4"/>
<rect x="392.7" y="414.7" width="103.2" height="80" rx="2" fill="url(#q13)" stroke="#009c12" stroke-width="1.4"/>
<rect x="392.7" y="501.7" width="103.2" height="75.2" rx="2" fill="url(#q14)" stroke="#d80606" stroke-width="1.4"/>
<rect x="502.7" y="2.7" width="94.2" height="82.7" rx="2" fill="url(#q15)" stroke="#009c12" stroke-width="1.4"/>
<rect x="502.7" y="92.5" width="94.2" height="74.4" rx="2" fill="url(#q16)" stroke="#009c12" stroke-width="1.4"/>
<rect x="502.7" y="174" width="94.2" height="70.9" rx="2" fill="url(#q17)" stroke="#009c12" stroke-width="1.4"/>
<rect x="502.7" y="251.7" width="94.2" height="64.2" rx="2" fill="url(#q18)" stroke="#fca80c" stroke-width="1.4"/>
<rect x="502.7" y="323.2" width="94.2" height="58.7" rx="2" fill="url(#q19)" stroke="#d80606" stroke-width="1.4"/>
<rect x="502.7" y="389.5" width="94.2" height="58.2" rx="2" fill="url(#q20)" stroke="#009c12" stroke-width="1.4"/>
<rect x="502.7" y="455" width="94.2" height="58.4" rx="2" fill="url(#q21)" stroke="#d80606" stroke-width="1.4"/>
<rect x="502.7" y="520.2" width="94.2" height="56.7" rx="2" fill="url(#q22)" stroke="#009c12" stroke-width="1.4"/>
<rect x="603.7" y="2.7" width="73.2" height="67.7" rx="2" fill="url(#q23)" stroke="#d80606" stroke-width="1.4"/>
<rect x="603.7" y="77.7" width="73.2" height="66.7" rx="2" fill="url(#q24)" stroke="#009c12" stroke-width="1.4"/>
<rect x="603.7" y="151.7" width="73.2" height="66.2" rx="2" fill="url(#q25)" stroke="#d80606" stroke-width="1.4"/>
<rect x="603.7" y="225.2" width="73.2" height="66.5" rx="2" fill="url(#q26)" stroke="#d80606" stroke-width="1.4"/>
<rect x="603.7" y="298.5" width="73.2" height="65.2" rx="2" fill="url(#q27)" stroke="#d80606" stroke-width="1.4"/>
<rect x="603.7" y="371.2" width="73.2" height="64.5" rx="2" fill="url(#q28)" stroke="#d80606" stroke-width="1.4"/>
<rect x="603.7" y="443" width="73.2" height="64.7" rx="2" fill="url(#q29)" stroke="#d80606" stroke-width="1.4"/>
<rect x="603.7" y="514.7" width="73.2" height="62.2" rx="2" fill="url(#q30)" stroke="#009c12" stroke-width="1.4"/>
<rect x="683.7" y="2.7" width="65.2" height="68.7" rx="2" fill="url(#q31)" stroke="#009c12" stroke-width="1.4"/>
<rect x="683.7" y="78.2" width="65.2" height="68.2" rx="2" fill="url(#q32)" stroke="#009c12" stroke-width="1.4"/>
<rect x="683.7" y="153.2" width="65.2" height="66.7" rx="2" fill="url(#q33)" stroke="#d80606" stroke-width="1.4"/>
<rect x="683.7" y="227.2" width="65.2" height="66.5" rx="2" fill="url(#q34)" stroke="#009c12" stroke-width="1.4"/>
<rect x="683.7" y="301" width="65.2" height="65.2" rx="2" fill="url(#q35)" stroke="#009c12" stroke-width="1.4"/>
<rect x="683.7" y="373.2" width="65.2" height="63.2" rx="2" fill="url(#q36)" stroke="#fca80c" stroke-width="1.4"/>
<rect x="683.7" y="443.7" width="65.2" height="63.2" rx="2" fill="url(#q37)" stroke="#d80606" stroke-width="1.4"/>
<rect x="683.7" y="514" width="65.2" height="62.9" rx="2" fill="url(#q38)" stroke="#d80606" stroke-width="1.4"/>
<rect x="756.2" y="66.2" width="59.7" height="58.7" rx="2" fill="url(#q39)" stroke="#fca80c" stroke-width="1.4"/>
<rect x="756.2" y="132.2" width="59.7" height="54.2" rx="2" fill="url(#q40)" stroke="#d80606" stroke-width="1.4"/>
<rect x="756.2" y="193.5" width="59.7" height="51.4" rx="2" fill="url(#q41)" stroke="#d80606" stroke-width="1.4"/>
<rect x="756.2" y="252.2" width="59.7" height="50.7" rx="2" fill="url(#q42)" stroke="#009c12" stroke-width="1.4"/>
<rect x="756.2" y="310.5" width="59.7" height="49.4" rx="2" fill="url(#q43)" stroke="#d80606" stroke-width="1.4"/>
<rect x="756.2" y="367" width="59.7" height="49.2" rx="2" fill="url(#q44)" stroke="#d80606" stroke-width="1.4"/>
<rect x="756.2" y="423.5" width="59.7" height="48.3" rx="2" fill="url(#q45)" stroke="#009c12" stroke-width="1.4"/>
<rect x="756.2" y="479.1" width="59.7" height="44.8" rx="2" fill="url(#q46)" stroke="#d80606" stroke-width="1.4"/>
<rect x="756.2" y="531.2" width="59.7" height="45.7" rx="2" fill="url(#q47)" stroke="#d80606" stroke-width="1.4"/>
<rect x="822.7" y="122.7" width="49.7" height="47.7" rx="2" fill="url(#q48)" stroke="#fca80c" stroke-width="1.4"/>
<rect x="822.7" y="177.5" width="49.7" height="46.7" rx="2" fill="url(#q49)" stroke="#d80606" stroke-width="1.4"/>
<rect x="822.7" y="231.2" width="49.7" height="45.2" rx="2" fill="url(#q50)" stroke="#d80606" stroke-width="1.4"/>
<rect x="822.7" y="283.7" width="49.7" height="45.2" rx="2" fill="url(#q51)" stroke="#009c12" stroke-width="1.4"/>
<rect x="822.7" y="336" width="49.7" height="44.4" rx="2" fill="url(#q52)" stroke="#d80606" stroke-width="1.4"/>
<rect x="822.7" y="387.2" width="49.7" height="44.5" rx="2" fill="url(#q53)" stroke="#d80606" stroke-width="1.4"/>
<rect x="822.7" y="438.5" width="49.7" height="41.9" rx="2" fill="url(#q54)" stroke="#009c12" stroke-width="1.4"/>
<rect x="822.7" y="487" width="49.7" height="41.7" rx="2" fill="url(#q55)" stroke="#d80606" stroke-width="1.4"/>
<rect x="822.7" y="535.7" width="49.7" height="41.2" rx="2" fill="url(#q56)" stroke="#d80606" stroke-width="1.4"/>
<rect x="879.7" y="215.2" width="39" height="35.5" rx="2" fill="url(#q57)" stroke="#d80606" stroke-width="1.4"/>
<rect x="879.7" y="258.1" width="39" height="35.3" rx="2" fill="url(#q58)" stroke="#fca80c" stroke-width="1.4"/>
<rect x="879.7" y="300.8" width="39" height="34.9" rx="2" fill="url(#q59)" stroke="#d80606" stroke-width="1.4"/>
<rect x="879.7" y="343.1" width="39" height="34.9" rx="2" fill="url(#q60)" stroke="#d80606" stroke-width="1.4"/>
<rect x="879.7" y="385.4" width="39" height="33.7" rx="2" fill="url(#q61)" stroke="#009c12" stroke-width="1.4"/>
<rect x="879.7" y="427" width="39" height="32.5" rx="2" fill="url(#q62)" stroke="#d80606" stroke-width="1.4"/>
<rect x="879.7" y="467" width="39" height="31.1" rx="2" fill="url(#q63)" stroke="#d80606" stroke-width="1.4"/>
<rect x="879.7" y="506" width="39" height="31.8" rx="2" fill="url(#q64)" stroke="#fca80c" stroke-width="1.4"/>
<rect x="879.7" y="544.9" width="39" height="31.4" rx="2" fill="url(#q65)" stroke="#fca80c" stroke-width="1.4"/>
<rect x="925.7" y="252" width="34.5" height="31" rx="2" fill="url(#q66)" stroke="#009c12" stroke-width="1.4"/>
<rect x="925.7" y="290.1" width="34.5" height="31" rx="2" fill="url(#q67)" stroke="#d80606" stroke-width="1.4"/>
<rect x="925.7" y="328" width="34.5" height="30.2" rx="2" fill="url(#q68)" stroke="#009c12" stroke-width="1.4"/>
<rect x="925.7" y="365.7" width="34.5" height="29.2" rx="2" fill="url(#q69)" stroke="#d80606" stroke-width="1.4"/>
<rect x="925.7" y="402.2" width="34.5" height="29.4" rx="2" fill="url(#q70)" stroke="#d80606" stroke-width="1.4"/>
<rect x="925.7" y="439" width="34.5" height="29.4" rx="2" fill="url(#q71)" stroke="#d80606" stroke-width="1.4"/>
<rect x="925.7" y="475.2" width="34.5" height="29.1" rx="2" fill="url(#q72)" stroke="#d80606" stroke-width="1.4"/>
<rect x="925.7" y="511.9" width="34.5" height="28.2" rx="2" fill="url(#q73)" stroke="#d80606" stroke-width="1.4"/>
<rect x="925.7" y="548" width="34.5" height="28.3" rx="2" fill="url(#q74)" stroke="#d80606" stroke-width="1.4"/>
<rect x="967.2" y="287.9" width="31" height="27.4" rx="2" fill="url(#q75)" stroke="#d80606" stroke-width="1.4"/>
<rect x="967.2" y="323.1" width="31" height="26.9" rx="2" fill="url(#q76)" stroke="#d80606" stroke-width="1.4"/>
<rect x="967.2" y="357.3" width="31" height="25.8" rx="2" fill="url(#q77)" stroke="#d80606" stroke-width="1.4"/>
<rect x="967.2" y="390.2" width="31" height="25.9" rx="2" fill="url(#q78)" stroke="#d80606" stroke-width="1.4"/>
<rect x="967.2" y="423.9" width="31" height="25.5" rx="2" fill="url(#q79)" stroke="#d80606" stroke-width="1.4"/>
<rect x="967.2" y="457" width="31" height="24.8" rx="2" fill="url(#q80)" stroke="#fca80c" stroke-width="1.4"/>
<rect x="967.2" y="488.9" width="31" height="25.1" rx="2" fill="url(#q81)" stroke="#d80606" stroke-width="1.4"/>
<rect x="967.2" y="521.1" width="31" height="24.1" rx="2" fill="url(#q82)" stroke="#d80606" stroke-width="1.4"/>
<rect x="967.2" y="552.7" width="31" height="23.6" rx="2" fill="url(#q83)" stroke="#d80606" stroke-width="1.4"/>
<rect x="1005" y="319.2" width="27.4" height="24.3" rx="2" fill="url(#q84)" stroke="#fca80c" stroke-width="1.4"/>
<rect x="1005" y="350.9" width="27.4" height="23.9" rx="2" fill="url(#q85)" stroke="#009c12" stroke-width="1.4"/>
<rect x="1005" y="382" width="27.4" height="22.8" rx="2" fill="url(#q86)" stroke="#d80606" stroke-width="1.4"/>
<rect x="1005" y="411.9" width="27.4" height="22.3" rx="2" fill="url(#q87)" stroke="#d80606" stroke-width="1.4"/>
<rect x="1005" y="441.8" width="27.4" height="22.4" rx="2" fill="url(#q88)" stroke="#d80606" stroke-width="1.4"/>
<rect x="1005" y="471.3" width="27.4" height="21.7" rx="2" fill="url(#q89)" stroke="#009c12" stroke-width="1.4"/>
<rect x="1005" y="500.1" width="27.4" height="21.3" rx="2" fill="url(#q90)" stroke="#d80606" stroke-width="1.4"/>
<rect x="1005" y="528.9" width="27.4" height="20.2" rx="2" fill="url(#q91)" stroke="#d80606" stroke-width="1.4"/>
<rect x="1005" y="556.8" width="27.4" height="19.5" rx="2" fill="url(#q92)" stroke="#d80606" stroke-width="1.4"/>
<rect x="1039" y="346.8" width="22.3" height="19.8" rx="2" fill="url(#q93)" stroke="#009c12" stroke-width="1.4"/>
<rect x="1039" y="374" width="22.3" height="19.2" rx="2" fill="url(#q94)" stroke="#d80606" stroke-width="1.4"/>
<rect x="1039" y="400.8" width="22.3" height="19.4" rx="2" fill="url(#q95)" stroke="#d80606" stroke-width="1.4"/>
<rect x="1039" y="427.4" width="22.3" height="19" rx="2" fill="url(#q96)" stroke="#009c12" stroke-width="1.4"/>
<rect x="1039" y="454" width="22.3" height="19" rx="2" fill="url(#q97)" stroke="#d80606" stroke-width="1.4"/>
<rect x="1039" y="480.6" width="22.3" height="19" rx="2" fill="url(#q98)" stroke="#fca80c" stroke-width="1.4"/>
<rect x="1039" y="507" width="22.3" height="19" rx="2" fill="url(#q99)" stroke="#d80606" stroke-width="1.4"/>
<rect x="1039" y="533" width="22.3" height="18.9" rx="2" fill="url(#q100)" stroke="#d80606" stroke-width="1.4"/>
<rect x="1039" y="559.2" width="22.3" height="17.1" rx="2" fill="url(#q101)" stroke="#d80606" stroke-width="1.4"/>
<rect x="1068.2" y="371.1" width="18.1" height="17.3" rx="2" fill="url(#q102)" stroke="#009c12" stroke-width="1.4"/>
<rect x="1068.2" y="396" width="18.1" height="17.2" rx="2" fill="url(#q103)" stroke="#fca80c" stroke-width="1.4"/>
<rect x="1068.2" y="420.3" width="18.1" height="17.1" rx="2" fill="url(#q104)" stroke="#009c12" stroke-width="1.4"/>
<rect x="1068.2" y="444.7" width="18.1" height="16.6" rx="2" fill="url(#q105)" stroke="#d80606" stroke-width="1.4"/>
<rect x="1068.2" y="468.7" width="18.1" height="15.6" rx="2" fill="url(#q106)" stroke="#009c12" stroke-width="1.4"/>
<rect x="1068.2" y="491.3" width="18.1" height="15.8" rx="2" fill="url(#q107)" stroke="#d80606" stroke-width="1.4"/>
<rect x="1068.2" y="514.9" width="18.1" height="15.6" rx="2" fill="url(#q108)" stroke="#d80606" stroke-width="1.4"/>
<rect x="1068.2" y="538" width="18.1" height="15.3" rx="2" fill="url(#q109)" stroke="#d80606" stroke-width="1.4"/>
<rect x="1068.2" y="561" width="18.1" height="15.3" rx="2" fill="url(#q110)" stroke="#d80606" stroke-width="1.4"/>
<rect x="1093.5" y="392.9" width="15.2" height="15.3" rx="2" fill="url(#q111)" stroke="#d80606" stroke-width="1.4"/>
<rect x="1093.5" y="415.3" width="15.2" height="15.2" rx="2" fill="url(#q112)" stroke="#d80606" stroke-width="1.4"/>
<rect x="1093.5" y="437.7" width="15.2" height="15" rx="2" fill="url(#q113)" stroke="#009c12" stroke-width="1.4"/>
<rect x="1093.5" y="460" width="15.2" height="14.4" rx="2" fill="url(#q114)" stroke="#d80606" stroke-width="1.4"/>
<rect x="1093.5" y="481.6" width="15.2" height="13.7" rx="2" fill="url(#q115)" stroke="#009c12" stroke-width="1.4"/>
<rect x="1093.5" y="502.4" width="15.2" height="13.6" rx="2" fill="url(#q116)" stroke="#d80606" stroke-width="1.4"/>
<rect x="1093.5" y="523.3" width="15.2" height="13" rx="2" fill="url(#q117)" stroke="#fca80c" stroke-width="1.4"/>
<rect x="1093.5" y="543.7" width="15.2" height="12.8" rx="2" fill="url(#q118)" stroke="#d80606" stroke-width="1.4"/>
<rect x="1093.5" y="564" width="15.2" height="12.3" rx="2" fill="url(#q119)" stroke="#009c12" stroke-width="1.4"/>
<rect x="1115.4" y="428.9" width="11" height="9.9" rx="1.5" fill="url(#q120)" stroke="#d80606" stroke-width="1.4"/>
<rect x="1115.4" y="445.9" width="11" height="9.2" rx="1.5" fill="url(#q121)" stroke="#fca80c" stroke-width="1.4"/>
<rect x="1115.4" y="461.8" width="11" height="9.2" rx="1.5" fill="url(#q122)" stroke="#d80606" stroke-width="1.4"/>
<rect x="1115.4" y="477.7" width="11" height="9" rx="1.5" fill="url(#q123)" stroke="#d80606" stroke-width="1.4"/>
<rect x="1115.4" y="493.9" width="11" height="8.2" rx="1.5" fill="url(#q124)" stroke="#009c12" stroke-width="1.4"/>
<rect x="1115.4" y="509.4" width="11" height="8" rx="1.5" fill="url(#q125)" stroke="#009c12" stroke-width="1.4"/>
<rect x="1115.4" y="524.7" width="11" height="7.8" rx="1.5" fill="url(#q126)" stroke="#d80606" stroke-width="1.4"/>
<rect x="1115.4" y="539.7" width="11" height="7.5" rx="1.5" fill="url(#q127)" stroke="#d80606" stroke-width="1.4"/>
<rect x="1115.4" y="554.8" width="11" height="7.3" rx="1.5" fill="url(#q128)" stroke="#009c12" stroke-width="1.4"/>
<rect x="1115.4" y="569.3" width="11" height="7" rx="1.5" fill="url(#q129)" stroke="#d80606" stroke-width="1.4"/>
<rect x="1133" y="442.8" width="7.9" height="7.1" rx="1.5" fill="url(#q130)" stroke="#d80606" stroke-width="1.4"/>
<rect x="1133" y="456.7" width="7.9" height="7.2" rx="1.5" fill="url(#q131)" stroke="#d80606" stroke-width="1.4"/>
<rect x="1133" y="471" width="7.9" height="6.8" rx="1.5" fill="url(#q132)" stroke="#009c12" stroke-width="1.4"/>
<rect x="1133" y="484.5" width="7.9" height="7.2" rx="1.5" fill="url(#q133)" stroke="#d80606" stroke-width="1.4"/>
<rect x="1133" y="498.7" width="7.9" height="5.8" rx="1.5" fill="url(#q134)" stroke="#009c12" stroke-width="1.4"/>
<rect x="1133" y="511.7" width="7.9" height="4.3" rx="1.5" fill="url(#q135)" stroke="#d80606" stroke-width="1.4"/>
<rect x="1133" y="522.9" width="7.9" height="3.9" rx="1.5" fill="url(#q136)" stroke="#fca80c" stroke-width="1.4"/>
<rect x="1133" y="533.8" width="7.9" height="3.9" rx="1.5" fill="url(#q137)" stroke="#d80606" stroke-width="1.4"/>
<rect x="1133" y="544.7" width="7.9" height="3.9" rx="1.5" fill="url(#q138)" stroke="#d80606" stroke-width="1.4"/>
<rect x="756.2" y="2.7" width="71.7" height="56.7" rx="2" fill="url(#q139)" stroke="#d80606" stroke-width="1.4"/>
<rect x="834.7" y="2.7" width="72.2" height="56.7" rx="2" fill="url(#q140)" stroke="#009c12" stroke-width="1.4"/>
<rect x="913.7" y="2.7" width="71.7" height="56.7" rx="2" fill="url(#q141)" stroke="#d80606" stroke-width="1.4"/>
<rect x="992.2" y="2.7" width="69.2" height="56.7" rx="2" fill="url(#q142)" stroke="#d80606" stroke-width="1.4"/>
<rect x="1068.7" y="2.7" width="68.2" height="56.7" rx="2" fill="url(#q143)" stroke="#009c12" stroke-width="1.4"/>
<rect x="1143.7" y="2.7" width="65.2" height="56.7" rx="2" fill="url(#q144)" stroke="#009c12" stroke-width="1.4"/>
<rect x="1215.7" y="2.7" width="64.7" height="56.7" rx="2" fill="url(#q145)" stroke="#009c12" stroke-width="1.4"/>
<rect x="822.7" y="66.2" width="54.2" height="49.7" rx="2" fill="url(#q146)" stroke="#009c12" stroke-width="1.4"/>
<rect x="883.7" y="66.2" width="53.2" height="49.7" rx="2" fill="url(#q147)" stroke="#d80606" stroke-width="1.4"/>
<rect x="943.7" y="66.2" width="54.2" height="49.7" rx="2" fill="url(#q148)" stroke="#009c12" stroke-width="1.4"/>
<rect x="1004.7" y="66.2" width="53.2" height="49.7" rx="2" fill="url(#q149)" stroke="#d80606" stroke-width="1.4"/>
<rect x="1064.7" y="66.2" width="48.7" height="49.7" rx="2" fill="url(#q150)" stroke="#d80606" stroke-width="1.4"/>
<rect x="1120.7" y="66.2" width="48.7" height="49.7" rx="2" fill="url(#q151)" stroke="#009c12" stroke-width="1.4"/>
<rect x="1176.2" y="66.2" width="48.7" height="49.7" rx="2" fill="url(#q152)" stroke="#d80606" stroke-width="1.4"/>
<rect x="1231.7" y="66.2" width="48.7" height="49.7" rx="2" fill="url(#q153)" stroke="#fca80c" stroke-width="1.4"/>
<rect x="879.7" y="122.7" width="46.7" height="42.7" rx="2" fill="url(#q154)" stroke="#d80606" stroke-width="1.4"/>
<rect x="933.7" y="122.7" width="46.2" height="42.7" rx="2" fill="url(#q155)" stroke="#009c12" stroke-width="1.4"/>
<rect x="986.7" y="122.7" width="45.7" height="42.7" rx="2" fill="url(#q156)" stroke="#d80606" stroke-width="1.4"/>
<rect x="1039.7" y="122.7" width="45.2" height="42.7" rx="2" fill="url(#q157)" stroke="#d80606" stroke-width="1.4"/>
<rect x="1091.7" y="122.7" width="44.2" height="42.7" rx="2" fill="url(#q158)" stroke="#d80606" stroke-width="1.4"/>
<rect x="1142.7" y="122.7" width="42.7" height="42.7" rx="2" fill="url(#q159)" stroke="#d80606" stroke-width="1.4"/>
<rect x="1192.7" y="122.7" width="40.2" height="42.7" rx="2" fill="url(#q160)" stroke="#d80606" stroke-width="1.4"/>
<rect x="1240.7" y="122.7" width="39.7" height="42.7" rx="2" fill="url(#q161)" stroke="#d80606" stroke-width="1.4"/>
<rect x="879.7" y="172.7" width="46.5" height="34.6" rx="2" fill="url(#q162)" stroke="#d80606" stroke-width="1.4"/>
<rect x="933.2" y="172.7" width="45.2" height="34.6" rx="2" fill="url(#q163)" stroke="#d80606" stroke-width="1.4"/>
<rect x="985.7" y="172.7" width="45.4" height="34.6" rx="2" fill="url(#q164)" stroke="#d80606" stroke-width="1.4"/>
<rect x="1038" y="172.7" width="43.4" height="34.6" rx="2" fill="url(#q165)" stroke="#d80606" stroke-width="1.4"/>
<rect x="1088.7" y="172.7" width="43.2" height="34.6" rx="2" fill="url(#q166)" stroke="#009c12" stroke-width="1.4"/>
<rect x="1139" y="172.7" width="42.9" height="34.6" rx="2" fill="url(#q167)" stroke="#d80606" stroke-width="1.4"/>
<rect x="1189" y="172.7" width="41.9" height="34.6" rx="2" fill="url(#q168)" stroke="#fca80c" stroke-width="1.4"/>
<rect x="1238" y="172.7" width="42.4" height="34.6" rx="2" fill="url(#q169)" stroke="#d80606" stroke-width="1.4"/>
<rect x="925.5" y="215.2" width="40.7" height="28.9" rx="2" fill="url(#q170)" stroke="#d80606" stroke-width="1.4"/>
<rect x="973.2" y="215.2" width="41" height="28.9" rx="2" fill="url(#q171)" stroke="#d80606" stroke-width="1.4"/>
<rect x="1021.2" y="215.2" width="41" height="28.9" rx="2" fill="url(#q172)" stroke="#d80606" stroke-width="1.4"/>
<rect x="1069" y="215.2" width="37.7" height="28.9" rx="2" fill="url(#q173)" stroke="#d80606" stroke-width="1.4"/>
<rect x="1114" y="215.2" width="36.7" height="28.9" rx="2" fill="url(#q174)" stroke="#009c12" stroke-width="1.4"/>
<rect x="1157.7" y="215.2" width="36.3" height="28.9" rx="2" fill="url(#q175)" stroke="#d80606" stroke-width="1.4"/>
<rect x="1201.5" y="215.2" width="35.2" height="28.9" rx="2" fill="url(#q176)" stroke="#d80606" stroke-width="1.4"/>
<rect x="1244" y="215.2" width="36.2" height="28.9" rx="2" fill="url(#q177)" stroke="#d80606" stroke-width="1.4"/>
<rect x="967.2" y="252" width="34.8" height="29" rx="2" fill="url(#q178)" stroke="#009c12" stroke-width="1.4"/>
<rect x="1008.9" y="252" width="34.1" height="29" rx="2" fill="url(#q179)" stroke="#d80606" stroke-width="1.4"/>
<rect x="1050" y="252" width="33.7" height="29" rx="2" fill="url(#q180)" stroke="#d80606" stroke-width="1.4"/>
<rect x="1090.7" y="252" width="34" height="29" rx="2" fill="url(#q181)" stroke="#d80606" stroke-width="1.4"/>
<rect x="1131.7" y="252" width="33" height="29" rx="2" fill="url(#q182)" stroke="#d80606" stroke-width="1.4"/>
<rect x="1171.7" y="252" width="32" height="29" rx="2" fill="url(#q183)" stroke="#009c12" stroke-width="1.4"/>
<rect x="1210.7" y="252" width="31.5" height="29" rx="2" fill="url(#q184)" stroke="#009c12" stroke-width="1.4"/>
<rect x="1249.2" y="252" width="31" height="29" rx="2" fill="url(#q185)" stroke="#d80606" stroke-width="1.4"/>
<rect x="1005" y="287.9" width="29.4" height="24.2" rx="2" fill="url(#q186)" stroke="#d80606" stroke-width="1.4"/>
<rect x="1041.4" y="287.9" width="29" height="24.2" rx="2" fill="url(#q187)" stroke="#d80606" stroke-width="1.4"/>
<rect x="1077.6" y="287.9" width="28.6" height="24.2" rx="2" fill="url(#q188)" stroke="#d80606" stroke-width="1.4"/>
<rect x="1112.9" y="287.9" width="28" height="24.2" rx="2" fill="url(#q189)" stroke="#d80606" stroke-width="1.4"/>
<rect x="1148.1" y="287.9" width="28" height="24.2" rx="2" fill="url(#q190)" stroke="#fca80c" stroke-width="1.4"/>
<rect x="1183" y="287.9" width="27.7" height="24.2" rx="2" fill="url(#q191)" stroke="#d80606" stroke-width="1.4"/>
<rect x="1217.8" y="287.9" width="27.6" height="24.2" rx="2" fill="url(#q192)" stroke="#d80606" stroke-width="1.4"/>
<rect x="1252.5" y="287.9" width="27.7" height="24.2" rx="2" fill="url(#q193)" stroke="#d80606" stroke-width="1.4"/>
<rect x="1039" y="319" width="26.1" height="20.4" rx="2" fill="url(#q194)" stroke="#fca80c" stroke-width="1.4"/>
<rect x="1072" y="319" width="24.2" height="20.4" rx="2" fill="url(#q195)" stroke="#d80606" stroke-width="1.4"/>
<rect x="1103.8" y="319" width="24.2" height="20.4" rx="2" fill="url(#q196)" stroke="#009c12" stroke-width="1.4"/>
<rect x="1135" y="319" width="24.4" height="20.4" rx="2" fill="url(#q197)" stroke="#d80606" stroke-width="1.4"/>
<rect x="1166.5" y="319" width="23.7" height="20.4" rx="2" fill="url(#q198)" stroke="#009c12" stroke-width="1.4"/>
<rect x="1197.1" y="319" width="23.9" height="20.4" rx="2" fill="url(#q199)" stroke="#d80606" stroke-width="1.4"/>
<rect x="1227.7" y="319" width="23.3" height="20.4" rx="2" fill="url(#q200)" stroke="#d80606" stroke-width="1.4"/>
<rect x="1257.9" y="319" width="22.3" height="20.4" rx="2" fill="url(#q201)" stroke="#d80606" stroke-width="1.4"/>
<rect x="1068" y="346.8" width="22.5" height="17.4" rx="2" fill="url(#q202)" stroke="#d80606" stroke-width="1.4"/>
<rect x="1097.2" y="346.8" width="22.1" height="17.4" rx="2" fill="url(#q203)" stroke="#d80606" stroke-width="1.4"/>
<rect x="1126" y="346.8" width="21.3" height="17.4" rx="2" fill="url(#q204)" stroke="#d80606" stroke-width="1.4"/>
<rect x="1154" y="346.8" width="21.3" height="17.4" rx="2" fill="url(#q205)" stroke="#d80606" stroke-width="1.4"/>
<rect x="1182" y="346.8" width="20.1" height="17.4" rx="2" fill="url(#q206)" stroke="#d80606" stroke-width="1.4"/>
<rect x="1208.9" y="346.8" width="19.2" height="17.4" rx="2" fill="url(#q207)" stroke="#d80606" stroke-width="1.4"/>
<rect x="1235.1" y="346.8" width="19.2" height="17.4" rx="2" fill="url(#q208)" stroke="#009c12" stroke-width="1.4"/>
<rect x="1261.1" y="346.8" width="19.1" height="17.4" rx="2" fill="url(#q209)" stroke="#d80606" stroke-width="1.4"/>
<rect x="1093.5" y="371.1" width="18.8" height="15" rx="2" fill="url(#q210)" stroke="#d80606" stroke-width="1.4"/>
<rect x="1119.3" y="371.1" width="18.2" height="15" rx="2" fill="url(#q211)" stroke="#fca80c" stroke-width="1.4"/>
<rect x="1144.9" y="371.1" width="17.8" height="15" rx="2" fill="url(#q212)" stroke="#d80606" stroke-width="1.4"/>
<rect x="1169.9" y="371.1" width="17.5" height="15" rx="2" fill="url(#q213)" stroke="#d80606" stroke-width="1.4"/>
<rect x="1194.2" y="371.1" width="17" height="15" rx="2" fill="url(#q214)" stroke="#009c12" stroke-width="1.4"/>
<rect x="1218" y="371.1" width="16.9" height="15" rx="2" fill="url(#q215)" stroke="#d80606" stroke-width="1.4"/>
<rect x="1241.8" y="371.1" width="15.7" height="15" rx="2" fill="url(#q216)" stroke="#d80606" stroke-width="1.4"/>
<rect x="1264.5" y="371.1" width="15.7" height="15" rx="2" fill="url(#q217)" stroke="#fca80c" stroke-width="1.4"/>
<rect x="1115.5" y="392.9" width="15.9" height="11.8" rx="2" fill="url(#q218)" stroke="#fca80c" stroke-width="1.4"/>
<rect x="1138.1" y="392.9" width="15.7" height="11.8" rx="2" fill="url(#q219)" stroke="#009c12" stroke-width="1.4"/>
<rect x="1161" y="392.9" width="14.3" height="11.8" rx="2" fill="url(#q220)" stroke="#d80606" stroke-width="1.4"/>
<rect x="1182" y="392.9" width="14.3" height="11.8" rx="2" fill="url(#q221)" stroke="#d80606" stroke-width="1.4"/>
<rect x="1203.1" y="392.9" width="14.3" height="11.8" rx="2" fill="url(#q222)" stroke="#009c12" stroke-width="1.4"/>
<rect x="1224.5" y="392.9" width="13.9" height="11.8" rx="2" fill="url(#q223)" stroke="#d80606" stroke-width="1.4"/>
<rect x="1245.8" y="392.9" width="13.7" height="11.8" rx="2" fill="url(#q224)" stroke="#d80606" stroke-width="1.4"/>
<rect x="1266.4" y="392.9" width="13.8" height="11.8" rx="2" fill="url(#q225)" stroke="#d80606" stroke-width="1.4"/>
<rect x="1115.5" y="411.1" width="14.1" height="11" rx="2" fill="url(#q226)" stroke="#d80606" stroke-width="1.4"/>
<rect x="1136.6" y="411.1" width="13.9" height="11" rx="2" fill="url(#q227)" stroke="#d80606" stroke-width="1.4"/>
<rect x="1157.4" y="411.1" width="12.9" height="11" rx="2" fill="url(#q228)" stroke="#d80606" stroke-width="1.4"/>
<rect x="1177.1" y="411.1" width="12.3" height="11" rx="2" fill="url(#q229)" stroke="#d80606" stroke-width="1.4"/>
<rect x="1196.1" y="411.1" width="12.1" height="11" rx="2" fill="url(#q230)" stroke="#009c12" stroke-width="1.4"/>
<rect x="1215" y="411.1" width="11.7" height="11" rx="2" fill="url(#q231)" stroke="#d80606" stroke-width="1.4"/>
<rect x="1233.7" y="411.1" width="11.7" height="11" rx="2" fill="url(#q232)" stroke="#d80606" stroke-width="1.4"/>
<rect x="1252.2" y="411.1" width="11.1" height="11" rx="2" fill="url(#q233)" stroke="#d80606" stroke-width="1.4"/>
<rect x="1270" y="411.1" width="10.2" height="11" rx="1.5" fill="url(#q234)" stroke="#009c12" stroke-width="1.4"/>
<rect x="1133" y="428.9" width="11.2" height="7" rx="1.5" fill="url(#q235)" stroke="#d80606" stroke-width="1.4"/>
<rect x="1151.1" y="428.9" width="11.3" height="7" rx="1.5" fill="url(#q236)" stroke="#d80606" stroke-width="1.4"/>
<rect x="1169.1" y="428.9" width="11.1" height="7" rx="1.5" fill="url(#q237)" stroke="#d80606" stroke-width="1.4"/>
<rect x="1187" y="428.9" width="10.5" height="7" rx="1.5" fill="url(#q238)" stroke="#d80606" stroke-width="1.4"/>
<rect x="1204.7" y="428.9" width="10.3" height="7" rx="1.5" fill="url(#q239)" stroke="#009c12" stroke-width="1.4"/>
<rect x="1221.7" y="428.9" width="9.8" height="7" rx="1.5" fill="url(#q240)" stroke="#d80606" stroke-width="1.4"/>
<rect x="1238.4" y="428.9" width="9.6" height="7" rx="1.5" fill="url(#q241)" stroke="#fca80c" stroke-width="1.4"/>
<rect x="1254.7" y="428.9" width="9.6" height="7" rx="1.5" fill="url(#q242)" stroke="#fca80c" stroke-width="1.4"/>
<rect x="1270.8" y="428.9" width="9.4" height="7" rx="1.5" fill="url(#q243)" stroke="#d80606" stroke-width="1.4"/>
<text class="t" font-size="45.68" x="125.48" y="94.44" textLength="198.76" lengthAdjust="spacingAndGlyphs">CSTB2515</text>
<text class="t" font-size="45.68" x="125.48" y="137.24" textLength="143.07" lengthAdjust="spacingAndGlyphs">+0.87%</text>
<text class="t" font-size="31.75" x="125.37" y="271.98" textLength="154.73" lengthAdjust="spacingAndGlyphs">CVHM2512</text>
<text class="t" font-size="31.75" x="125.37" y="301.71" textLength="99.43" lengthAdjust="spacingAndGlyphs">+0.32%</text>
<text class="t" font-size="26.87" x="125.59" y="402.11" textLength="119.71" lengthAdjust="spacingAndGlyphs">CVPB2513</text>
<text class="t" font-size="26.87" x="125.59" y="427.78" textLength="78.16" lengthAdjust="spacingAndGlyphs">-5.21%</text>
<text class="t" font-size="25.11" x="125.37" y="518.05" textLength="117.12" lengthAdjust="spacingAndGlyphs">CMBB2511</text>
<text class="t" font-size="25.11" x="125.37" y="542.02" textLength="73.02" lengthAdjust="spacingAndGlyphs">-2.97%</text>
<text class="t" font-size="20.54" x="320.54" y="64.07" textLength="104.41" lengthAdjust="spacingAndGlyphs">CMWG2511</text>
<text class="t" font-size="20.54" x="320.54" y="82.86" textLength="59.74" lengthAdjust="spacingAndGlyphs">-1.93%</text>
<text class="t" font-size="24.11" x="320.67" y="190.16" textLength="103.61" lengthAdjust="spacingAndGlyphs">CVIC2514</text>
<text class="t" font-size="24.11" x="320.67" y="212.78" textLength="75.5" lengthAdjust="spacingAndGlyphs">+4.34%</text>
<text class="t" font-size="23.6" x="320.59" y="303.09" textLength="101.41" lengthAdjust="spacingAndGlyphs">CVIC2513</text>
<text class="t" font-size="23.6" x="320.59" y="325.84" textLength="85.03" lengthAdjust="spacingAndGlyphs">+12.51%</text>
<text class="t" font-size="23.61" x="320.51" y="415.84" textLength="100.24" lengthAdjust="spacingAndGlyphs">CVIC2511</text>
<text class="t" font-size="23.61" x="320.51" y="437.73" textLength="73.94" lengthAdjust="spacingAndGlyphs">+4.86%</text>
<text class="t" font-size="21.47" x="320.81" y="523.95" textLength="104.64" lengthAdjust="spacingAndGlyphs">CVHM2516</text>
<text class="t" font-size="21.47" x="320.81" y="544.07" textLength="62.45" lengthAdjust="spacingAndGlyphs">-0.79%</text>
<text class="t" font-size="17.21" x="443.67" y="56.98" textLength="79.36" lengthAdjust="spacingAndGlyphs">CHPG2518</text>
<text class="t" font-size="17.21" x="443.67" y="72.85" textLength="50.05" lengthAdjust="spacingAndGlyphs">-3.08%</text>
<text class="t" font-size="19.03" x="443.76" y="166.91" textLength="82.82" lengthAdjust="spacingAndGlyphs">CSTB2533</text>
<text class="t" font-size="19.03" x="443.76" y="184.64" textLength="50.63" lengthAdjust="spacingAndGlyphs">+1.7%</text>
<text class="t" font-size="18.83" x="443.83" y="264.11" textLength="80.94" lengthAdjust="spacingAndGlyphs">CVIC2516</text>
<text class="t" font-size="18.83" x="443.83" y="281.74" textLength="58.98" lengthAdjust="spacingAndGlyphs">+8.22%</text>
<text class="t" font-size="18.22" x="443.77" y="360.05" textLength="79.26" lengthAdjust="spacingAndGlyphs">CSTB2521</text>
<text class="t" font-size="18.22" x="443.77" y="377.39" textLength="57.05" lengthAdjust="spacingAndGlyphs">+0.22%</text>
<text class="t" font-size="19.15" x="444" y="450.27" textLength="82.3" lengthAdjust="spacingAndGlyphs">CVIC2515</text>
<text class="t" font-size="19.15" x="444" y="468.05" textLength="69.01" lengthAdjust="spacingAndGlyphs">+10.33%</text>
<text class="t" font-size="16.91" x="444.12" y="535.19" textLength="86.84" lengthAdjust="spacingAndGlyphs">CMWG2525</text>
<text class="t" font-size="16.91" x="444.12" y="551.17" textLength="49.18" lengthAdjust="spacingAndGlyphs">-1.72%</text>
<text class="t" font-size="17.39" x="549.52" y="40.14" textLength="75.69" lengthAdjust="spacingAndGlyphs">CSTB2604</text>
<text class="t" font-size="17.39" x="549.52" y="55.84" textLength="54.48" lengthAdjust="spacingAndGlyphs">+1.93%</text>
<text class="t" font-size="17.86" x="549.55" y="125.41" textLength="76.78" lengthAdjust="spacingAndGlyphs">CVIC2517</text>
<text class="t" font-size="17.86" x="549.55" y="141.71" textLength="55.95" lengthAdjust="spacingAndGlyphs">+9.45%</text>
<text class="t" font-size="17.1" x="549.65" y="205.37" textLength="74.41" lengthAdjust="spacingAndGlyphs">CSTB2519</text>
<text class="t" font-size="17.1" x="549.65" y="220.94" textLength="52.67" lengthAdjust="spacingAndGlyphs">+2.11%</text>
<text class="t" font-size="15.41" x="549.31" y="280.23" textLength="71.07" lengthAdjust="spacingAndGlyphs">CHPG2607</text>
<text class="t" font-size="15.41" x="549.31" y="294.75" textLength="30.09" lengthAdjust="spacingAndGlyphs">+0%</text>
<text class="t" font-size="14.25" x="549.45" y="349.1" textLength="64.24" lengthAdjust="spacingAndGlyphs">CTCB2507</text>
<text class="t" font-size="14.25" x="549.45" y="362.7" textLength="41.44" lengthAdjust="spacingAndGlyphs">-4.55%</text>
<text class="t" font-size="14.07" x="549.45" y="415.02" textLength="61.23" lengthAdjust="spacingAndGlyphs">CSTB2532</text>
<text class="t" font-size="14.07" x="549.45" y="428.41" textLength="44.07" lengthAdjust="spacingAndGlyphs">+5.78%</text>
<text class="t" font-size="13.9" x="549.64" y="481.09" textLength="64.1" lengthAdjust="spacingAndGlyphs">CHPG2608</text>
<text class="t" font-size="13.9" x="549.64" y="494.15" textLength="33.87" lengthAdjust="spacingAndGlyphs">-4.1%</text>
<text class="t" font-size="13.6" x="549.29" y="545.42" textLength="59.87" lengthAdjust="spacingAndGlyphs">CTPB2503</text>
<text class="t" font-size="13.6" x="549.29" y="558.09" textLength="42.59" lengthAdjust="spacingAndGlyphs">+0.92%</text>
<text class="t" font-size="13.19" x="639.83" y="33.47" textLength="57.4" lengthAdjust="spacingAndGlyphs">CSTB2530</text>
<text class="t" font-size="13.19" x="639.83" y="45.82" textLength="32.14" lengthAdjust="spacingAndGlyphs">-8.3%</text>
<text class="t" font-size="11.96" x="639.66" y="107.98" textLength="61.45" lengthAdjust="spacingAndGlyphs">CMWG2515</text>
<text class="t" font-size="11.96" x="639.66" y="118.87" textLength="37.47" lengthAdjust="spacingAndGlyphs">+1.86%</text>
<text class="t" font-size="11.93" x="639.63" y="182.36" textLength="56.88" lengthAdjust="spacingAndGlyphs">CVNM2511</text>
<text class="t" font-size="11.93" x="639.63" y="192.98" textLength="34.69" lengthAdjust="spacingAndGlyphs">-0.54%</text>
<text class="t" font-size="12.83" x="639.66" y="255.58" textLength="60.53" lengthAdjust="spacingAndGlyphs">CMBB2608</text>
<text class="t" font-size="12.83" x="639.66" y="267.01" textLength="37.32" lengthAdjust="spacingAndGlyphs">-2.14%</text>
<text class="t" font-size="12.8" x="639.65" y="328.29" textLength="59.02" lengthAdjust="spacingAndGlyphs">CHDB2509</text>
<text class="t" font-size="12.8" x="639.65" y="339.95" textLength="37.21" lengthAdjust="spacingAndGlyphs">-2.65%</text>
<text class="t" font-size="12.66" x="639.69" y="400.35" textLength="59.07" lengthAdjust="spacingAndGlyphs">CMSN2512</text>
<text class="t" font-size="12.66" x="639.69" y="412.32" textLength="36.83" lengthAdjust="spacingAndGlyphs">-1.16%</text>
<text class="t" font-size="12.65" x="639.81" y="472.3" textLength="58.32" lengthAdjust="spacingAndGlyphs">CHPG2524</text>
<text class="t" font-size="12.65" x="639.81" y="484.27" textLength="36.78" lengthAdjust="spacingAndGlyphs">-5.35%</text>
<text class="t" font-size="13.05" x="639.52" y="542.48" textLength="56.76" lengthAdjust="spacingAndGlyphs">CSTB2606</text>
<text class="t" font-size="13.05" x="639.52" y="554.64" textLength="40.86" lengthAdjust="spacingAndGlyphs">+3.36%</text>
<text class="t" font-size="11.35" x="716.42" y="34.24" textLength="55.31" lengthAdjust="spacingAndGlyphs">CVHM2607</text>
<text class="t" font-size="11.35" x="716.42" y="44.85" textLength="22.16" lengthAdjust="spacingAndGlyphs">+1%</text>
<text class="t" font-size="11.25" x="716.16" y="109.3" textLength="51.89" lengthAdjust="spacingAndGlyphs">CHPG2525</text>
<text class="t" font-size="11.25" x="716.16" y="119.99" textLength="35.24" lengthAdjust="spacingAndGlyphs">+2.67%</text>
<text class="t" font-size="11.03" x="716" y="184.2" textLength="52.03" lengthAdjust="spacingAndGlyphs">CMBB2607</text>
<text class="t" font-size="11.03" x="716" y="194.16" textLength="32.08" lengthAdjust="spacingAndGlyphs">-5.36%</text>
<text class="t" font-size="11.9" x="715.81" y="258.06" textLength="54.24" lengthAdjust="spacingAndGlyphs">CVRE2512</text>
<text class="t" font-size="11.9" x="715.81" y="268.67" textLength="37.26" lengthAdjust="spacingAndGlyphs">+4.88%</text>
<text class="t" font-size="11.83" x="715.93" y="331.14" textLength="51.47" lengthAdjust="spacingAndGlyphs">CSTB2538</text>
<text class="t" font-size="11.83" x="715.93" y="341.72" textLength="37.05" lengthAdjust="spacingAndGlyphs">+1.31%</text>
<text class="t" font-size="11.44" x="715.8" y="402.16" textLength="55.17" lengthAdjust="spacingAndGlyphs">CVNM2515</text>
<text class="t" font-size="11.44" x="715.8" y="412.81" textLength="22.35" lengthAdjust="spacingAndGlyphs">+0%</text>
<text class="t" font-size="10.45" x="715.85" y="473.14" textLength="53.68" lengthAdjust="spacingAndGlyphs">CMWG2604</text>
<text class="t" font-size="10.45" x="715.85" y="482.57" textLength="30.4" lengthAdjust="spacingAndGlyphs">-1.65%</text>
<text class="t" font-size="11.31" x="716.04" y="542.5" textLength="52.14" lengthAdjust="spacingAndGlyphs">CHPG2539</text>
<text class="t" font-size="11.31" x="716.04" y="552.83" textLength="27.55" lengthAdjust="spacingAndGlyphs">-2.6%</text>
<text class="t" font-size="10.59" x="785.87" y="93.13" textLength="47.73" lengthAdjust="spacingAndGlyphs">CACB2511</text>
<text class="t" font-size="10.59" x="785.87" y="102.87" textLength="20.68" lengthAdjust="spacingAndGlyphs">+0%</text>
<text class="t" font-size="9.89" x="785.86" y="157.08" textLength="46.65" lengthAdjust="spacingAndGlyphs">CMBB2604</text>
<text class="t" font-size="9.89" x="785.86" y="165.99" textLength="28.77" lengthAdjust="spacingAndGlyphs">-3.03%</text>
<text class="t" font-size="9.2" x="785.68" y="217.1" textLength="47.23" lengthAdjust="spacingAndGlyphs">CMWG2609</text>
<text class="t" font-size="9.2" x="785.68" y="225.69" textLength="26.75" lengthAdjust="spacingAndGlyphs">-0.74%</text>
<text class="t" font-size="9.07" x="785.87" y="275.29" textLength="46.59" lengthAdjust="spacingAndGlyphs">CMWG2524</text>
<text class="t" font-size="9.07" x="785.87" y="283.94" textLength="28.41" lengthAdjust="spacingAndGlyphs">+1.78%</text>
<text class="t" font-size="9.08" x="786.19" y="333.12" textLength="44.24" lengthAdjust="spacingAndGlyphs">CVHM2525</text>
<text class="t" font-size="9.08" x="786.19" y="341.15" textLength="26.4" lengthAdjust="spacingAndGlyphs">-2.59%</text>
<text class="t" font-size="10.29" x="785.83" y="389.06" textLength="50.13" lengthAdjust="spacingAndGlyphs">CVHM2602</text>
<text class="t" font-size="10.29" x="785.83" y="398.91" textLength="29.92" lengthAdjust="spacingAndGlyphs">-8.55%</text>
<text class="t" font-size="10.27" x="785.78" y="445.21" textLength="50.04" lengthAdjust="spacingAndGlyphs">CVHM2606</text>
<text class="t" font-size="10.27" x="785.78" y="454.8" textLength="32.15" lengthAdjust="spacingAndGlyphs">+4.42%</text>
<text class="t" font-size="9.61" x="785.8" y="499.21" textLength="44.31" lengthAdjust="spacingAndGlyphs">CHPG2606</text>
<text class="t" font-size="9.61" x="785.8" y="508.09" textLength="27.95" lengthAdjust="spacingAndGlyphs">-2.81%</text>
<text class="t" font-size="9.61" x="785.71" y="551.93" textLength="45.33" lengthAdjust="spacingAndGlyphs">CMBB2606</text>
<text class="t" font-size="9.61" x="785.71" y="560.92" textLength="27.95" lengthAdjust="spacingAndGlyphs">-5.46%</text>
<text class="t" font-size="8.65" x="847.44" y="144.21" textLength="41.7" lengthAdjust="spacingAndGlyphs">CVNM2523</text>
<text class="t" font-size="8.65" x="847.44" y="152.67" textLength="16.89" lengthAdjust="spacingAndGlyphs">+0%</text>
<text class="t" font-size="8.45" x="847.56" y="198.88" textLength="39.42" lengthAdjust="spacingAndGlyphs">CMSN2605</text>
<text class="t" font-size="8.45" x="847.56" y="206.99" textLength="24.58" lengthAdjust="spacingAndGlyphs">-6.15%</text>
<text class="t" font-size="8.28" x="847.56" y="251.88" textLength="36.89" lengthAdjust="spacingAndGlyphs">CVPB2516</text>
<text class="t" font-size="8.28" x="847.56" y="259.28" textLength="24.09" lengthAdjust="spacingAndGlyphs">-1.83%</text>
<text class="t" font-size="9.57" x="847.37" y="304.24" textLength="40.64" lengthAdjust="spacingAndGlyphs">CVIB2504</text>
<text class="t" font-size="9.57" x="847.37" y="312.88" textLength="34.49" lengthAdjust="spacingAndGlyphs">+14.49%</text>
<text class="t" font-size="8" x="847.56" y="356.36" textLength="36.88" lengthAdjust="spacingAndGlyphs">CHPG2523</text>
<text class="t" font-size="8" x="847.56" y="363.88" textLength="23.26" lengthAdjust="spacingAndGlyphs">-5.49%</text>
<text class="t" font-size="7.81" x="847.44" y="407.63" textLength="35.62" lengthAdjust="spacingAndGlyphs">CACB2515</text>
<text class="t" font-size="7.81" x="847.44" y="415.06" textLength="22.72" lengthAdjust="spacingAndGlyphs">-0.78%</text>
<text class="t" font-size="7.39" x="847.65" y="457.67" textLength="36" lengthAdjust="spacingAndGlyphs">CVHM2524</text>
<text class="t" font-size="7.39" x="847.65" y="464.28" textLength="23.13" lengthAdjust="spacingAndGlyphs">+3.05%</text>
<text class="t" font-size="8.73" x="847.49" y="506.13" textLength="38" lengthAdjust="spacingAndGlyphs">CSTB2524</text>
<text class="t" font-size="8.73" x="847.49" y="514.05" textLength="25.4" lengthAdjust="spacingAndGlyphs">-1.94%</text>
<text class="t" font-size="8.63" x="847.65" y="554.31" textLength="40.71" lengthAdjust="spacingAndGlyphs">CMBB2517</text>
<text class="t" font-size="8.63" x="847.65" y="562.18" textLength="25.1" lengthAdjust="spacingAndGlyphs">-3.98%</text>
<text class="t" font-size="6.54" x="898.91" y="231.32" textLength="28.43" lengthAdjust="spacingAndGlyphs">CFPT2528</text>
<text class="t" font-size="6.54" x="898.91" y="237.7" textLength="19.01" lengthAdjust="spacingAndGlyphs">-9.28%</text>
<text class="t" font-size="10.98" x="899.2" y="276.66">…</text>
<text class="t" font-size="10.98" x="899.2" y="319.16">…</text>
<text class="t" font-size="10.98" x="899.2" y="361.46">…</text>
<text class="t" font-size="7.34" x="899.32" y="400.68" textLength="31.94" lengthAdjust="spacingAndGlyphs">CSTB2527</text>
<text class="t" font-size="7.34" x="899.32" y="407.09" textLength="22.99" lengthAdjust="spacingAndGlyphs">+3.65%</text>
<text class="t" font-size="10.98" x="899.2" y="444.16">…</text>
<text class="t" font-size="10.98" x="899.2" y="483.46">…</text>
<text class="t" font-size="6.74" x="899.12" y="520.27" textLength="32.47" lengthAdjust="spacingAndGlyphs">CVNM2522</text>
<text class="t" font-size="6.74" x="899.12" y="526.3" textLength="13.15" lengthAdjust="spacingAndGlyphs">+0%</text>
<text class="t" font-size="6.71" x="899.08" y="559.22" textLength="29.19" lengthAdjust="spacingAndGlyphs">CSTB2537</text>
<text class="t" font-size="6.71" x="899.08" y="565.14" textLength="13.1" lengthAdjust="spacingAndGlyphs">+0%</text>
<text class="t" font-size="6.39" x="942.67" y="266.06" textLength="27.15" lengthAdjust="spacingAndGlyphs">CVIB2602</text>
<text class="t" font-size="6.39" x="942.67" y="271.62" textLength="22.71" lengthAdjust="spacingAndGlyphs">+11.45%</text>
<text class="t" font-size="10.04" x="942.95" y="306.43">…</text>
<text class="t" font-size="10.04" x="942.95" y="343.93">…</text>
<text class="t" font-size="10.04" x="942.95" y="381.13">…</text>
<text class="t" font-size="10.04" x="942.95" y="417.73">…</text>
<text class="t" font-size="10.04" x="942.95" y="454.53">…</text>
<text class="t" font-size="10.04" x="942.95" y="490.58">…</text>
<text class="t" font-size="10.04" x="942.95" y="526.83">…</text>
<text class="t" font-size="10.04" x="942.95" y="562.98">…</text>
<text class="t" font-size="9.3" x="982.7" y="302.37">…</text>
<text class="t" font-size="9.3" x="982.7" y="337.32">…</text>
<text class="t" font-size="9.3" x="982.7" y="370.97">…</text>
<text class="t" font-size="9.3" x="982.7" y="403.92">…</text>
<text class="t" font-size="9.3" x="982.7" y="437.42">…</text>
<text class="t" font-size="9.3" x="982.7" y="470.17">…</text>
<text class="t" font-size="9.3" x="982.7" y="502.22">…</text>
<text class="t" font-size="9.3" x="982.7" y="533.92">…</text>
<text class="t" font-size="9.3" x="982.7" y="565.27">…</text>
<text class="t" font-size="8.14" x="1018.7" y="332.03" fill-opacity="0.70">…</text>
<text class="t" font-size="8.14" x="1018.7" y="363.53" fill-opacity="0.70">…</text>
<text class="t" font-size="8.14" x="1018.7" y="394.08" fill-opacity="0.70">…</text>
<text class="t" font-size="8.14" x="1018.7" y="423.73" fill-opacity="0.70">…</text>
<text class="t" font-size="8.14" x="1018.7" y="453.68" fill-opacity="0.70">…</text>
<text class="t" font-size="8.14" x="1018.7" y="482.83" fill-opacity="0.70">…</text>
<text class="t" font-size="8.14" x="1018.7" y="511.43" fill-opacity="0.70">…</text>
<text class="t" font-size="8.14" x="1018.7" y="539.68" fill-opacity="0.70">…</text>
<text class="t" font-size="8.14" x="1018.7" y="567.23" fill-opacity="0.70">…</text>
<text class="t" font-size="6.61" x="1050.15" y="357.25" fill-opacity="0.47">…</text>
<text class="t" font-size="6.61" x="1050.15" y="384.15" fill-opacity="0.47">…</text>
<text class="t" font-size="6.61" x="1050.15" y="411.05" fill-opacity="0.47">…</text>
<text class="t" font-size="6.61" x="1050.15" y="437.45" fill-opacity="0.47">…</text>
<text class="t" font-size="6.61" x="1050.15" y="464.05" fill-opacity="0.47">…</text>
<text class="t" font-size="6.61" x="1050.15" y="490.65" fill-opacity="0.47">…</text>
<text class="t" font-size="6.61" x="1050.15" y="517.05" fill-opacity="0.47">…</text>
<text class="t" font-size="6.61" x="1050.15" y="543" fill-opacity="0.47">…</text>
<text class="t" font-size="6.61" x="1050.15" y="568.3" fill-opacity="0.47">…</text>
<text class="t" font-size="5.35" x="1077.25" y="380.19" fill-opacity="0.29">…</text>
<text class="t" font-size="5.35" x="1077.25" y="405.04" fill-opacity="0.29">…</text>
<text class="t" font-size="5.35" x="1077.25" y="429.29" fill-opacity="0.29">…</text>
<text class="t" font-size="5.35" x="1077.25" y="453.44" fill-opacity="0.29">…</text>
<text class="t" font-size="5.35" x="1077.25" y="476.94" fill-opacity="0.29">…</text>
<text class="t" font-size="5.35" x="1077.25" y="499.64" fill-opacity="0.29">…</text>
<text class="t" font-size="5.35" x="1077.25" y="523.14" fill-opacity="0.29">…</text>
<text class="t" font-size="5.35" x="1077.25" y="546.09" fill-opacity="0.29">…</text>
<text class="t" font-size="5.35" x="1077.25" y="569.09" fill-opacity="0.29">…</text>
<text class="t" font-size="4.48" x="1101.1" y="400.92" fill-opacity="0.19">…</text>
<text class="t" font-size="4.48" x="1101.1" y="423.27" fill-opacity="0.19">…</text>
<text class="t" font-size="4.48" x="1101.1" y="445.57" fill-opacity="0.19">…</text>
<text class="t" font-size="4.48" x="1101.1" y="467.57" fill-opacity="0.19">…</text>
<text class="t" font-size="4.48" x="1101.1" y="488.82" fill-opacity="0.19">…</text>
<text class="t" font-size="4.48" x="1101.1" y="509.57" fill-opacity="0.19">…</text>
<text class="t" font-size="4.48" x="1101.1" y="530.17" fill-opacity="0.19">…</text>
<text class="t" font-size="4.48" x="1101.1" y="550.47" fill-opacity="0.19">…</text>
<text class="t" font-size="4.48" x="1101.1" y="570.52" fill-opacity="0.19">…</text>
<text class="t" font-size="3.22" x="1120.9" y="434.12" fill-opacity="0.19">…</text>
<text class="t" font-size="3.22" x="1120.9" y="450.77" fill-opacity="0.19">…</text>
<text class="t" font-size="3.22" x="1120.9" y="466.67" fill-opacity="0.19">…</text>
<text class="t" font-size="3.22" x="1120.9" y="482.47" fill-opacity="0.19">…</text>
<text class="t" font-size="3.22" x="1120.9" y="498.27" fill-opacity="0.19">…</text>
<text class="t" font-size="3.22" x="1120.9" y="513.67" fill-opacity="0.19">…</text>
<text class="t" font-size="3.22" x="1120.9" y="528.87" fill-opacity="0.19">…</text>
<text class="t" font-size="3.22" x="1120.9" y="543.72" fill-opacity="0.19">…</text>
<text class="t" font-size="3.22" x="1120.9" y="558.72" fill-opacity="0.19">…</text>
<text class="t" font-size="3.22" x="1120.9" y="573.07" fill-opacity="0.19">…</text>
<text class="t" font-size="3" x="1136.95" y="446.6" fill-opacity="0.19">…</text>
<text class="t" font-size="3" x="1136.95" y="460.55" fill-opacity="0.19">…</text>
<text class="t" font-size="3" x="1136.95" y="474.65" fill-opacity="0.19">…</text>
<text class="t" font-size="3" x="1136.95" y="488.35" fill-opacity="0.19">…</text>
<text class="t" font-size="3" x="1136.95" y="501.85" fill-opacity="0.19">…</text>
<text class="t" font-size="3" x="1136.95" y="514.1" fill-opacity="0.19">…</text>
<text class="t" font-size="3" x="1136.95" y="525.1" fill-opacity="0.19">…</text>
<text class="t" font-size="3" x="1136.95" y="536" fill-opacity="0.19">…</text>
<text class="t" font-size="3" x="1136.95" y="546.9" fill-opacity="0.19">…</text>
<text class="t" font-size="11.89" x="791.74" y="28.23" textLength="53.6" lengthAdjust="spacingAndGlyphs">CTCB2521</text>
<text class="t" font-size="11.89" x="791.74" y="39.47" textLength="34.58" lengthAdjust="spacingAndGlyphs">-9.02%</text>
<text class="t" font-size="13.47" x="870.42" y="28.06" textLength="58.61" lengthAdjust="spacingAndGlyphs">CSTB2603</text>
<text class="t" font-size="13.47" x="870.42" y="40.42" textLength="42.19" lengthAdjust="spacingAndGlyphs">+3.75%</text>
<text class="t" font-size="11.87" x="948.88" y="28.24" textLength="55.39" lengthAdjust="spacingAndGlyphs">CMSN2516</text>
<text class="t" font-size="11.87" x="948.88" y="39.46" textLength="40.14" lengthAdjust="spacingAndGlyphs">-10.93%</text>
<text class="t" font-size="11.79" x="1026.5" y="28.25" textLength="55.61" lengthAdjust="spacingAndGlyphs">CMBB2521</text>
<text class="t" font-size="11.79" x="1026.5" y="39.43" textLength="34.29" lengthAdjust="spacingAndGlyphs">-4.44%</text>
<text class="t" font-size="11.84" x="1102.21" y="28.24" textLength="51.53" lengthAdjust="spacingAndGlyphs">CSTB2602</text>
<text class="t" font-size="11.84" x="1102.21" y="39.45" textLength="37.09" lengthAdjust="spacingAndGlyphs">+0.95%</text>
<text class="t" font-size="11.81" x="1175.64" y="28.24" textLength="51.39" lengthAdjust="spacingAndGlyphs">CSTB2601</text>
<text class="t" font-size="11.81" x="1175.64" y="39.44" textLength="36.99" lengthAdjust="spacingAndGlyphs">+6.93%</text>
<text class="t" font-size="10.12" x="1247.18" y="28.43" textLength="49.32" lengthAdjust="spacingAndGlyphs">CVHM2603</text>
<text class="t" font-size="10.12" x="1247.18" y="38.2" textLength="31.7" lengthAdjust="spacingAndGlyphs">+4.18%</text>
<text class="t" font-size="9.08" x="849.82" y="88.92" textLength="39.5" lengthAdjust="spacingAndGlyphs">CSTB2605</text>
<text class="t" font-size="9.08" x="849.82" y="97.2" textLength="28.43" lengthAdjust="spacingAndGlyphs">+4.93%</text>
<text class="t" font-size="8.93" x="910.18" y="88.93" textLength="41.21" lengthAdjust="spacingAndGlyphs">CHDB2508</text>
<text class="t" font-size="8.93" x="910.18" y="97.15" textLength="25.99" lengthAdjust="spacingAndGlyphs">-4.97%</text>
<text class="t" font-size="8.96" x="970.82" y="88.93" textLength="38.99" lengthAdjust="spacingAndGlyphs">CSTB2525</text>
<text class="t" font-size="8.96" x="970.82" y="97.15" textLength="28.06" lengthAdjust="spacingAndGlyphs">+0.26%</text>
<text class="t" font-size="8.82" x="1031.18" y="89.19" textLength="40.7" lengthAdjust="spacingAndGlyphs">CHPG2538</text>
<text class="t" font-size="8.82" x="1031.18" y="97.1" textLength="25.66" lengthAdjust="spacingAndGlyphs">-1.95%</text>
<text class="t" font-size="7.47" x="1088.87" y="89.31" textLength="35.24" lengthAdjust="spacingAndGlyphs">CMBB2520</text>
<text class="t" font-size="7.47" x="1088.87" y="96.24" textLength="12.92" lengthAdjust="spacingAndGlyphs">-6%</text>
<text class="t" font-size="7.43" x="1144.79" y="89.32" textLength="34.28" lengthAdjust="spacingAndGlyphs">CHPG2604</text>
<text class="t" font-size="7.43" x="1144.79" y="96.22" textLength="23.28" lengthAdjust="spacingAndGlyphs">+2.78%</text>
<text class="t" font-size="7.52" x="1200.79" y="89.31" textLength="34.69" lengthAdjust="spacingAndGlyphs">CHPG2609</text>
<text class="t" font-size="7.52" x="1200.79" y="96.26" textLength="18.33" lengthAdjust="spacingAndGlyphs">-2.5%</text>
<text class="t" font-size="7.32" x="1255.8" y="89.33" textLength="35.7" lengthAdjust="spacingAndGlyphs">CVHM2601</text>
<text class="t" font-size="7.32" x="1255.8" y="96.19" textLength="14.3" lengthAdjust="spacingAndGlyphs">+0%</text>
<text class="t" font-size="7.75" x="902.45" y="142.18" textLength="34.14" lengthAdjust="spacingAndGlyphs">CLPB2503</text>
<text class="t" font-size="7.75" x="902.45" y="149.84" textLength="22.55" lengthAdjust="spacingAndGlyphs">-6.52%</text>
<text class="t" font-size="7.68" x="956.45" y="142.19" textLength="32.62" lengthAdjust="spacingAndGlyphs">CVIB2513</text>
<text class="t" font-size="7.68" x="956.45" y="149.82" textLength="24.06" lengthAdjust="spacingAndGlyphs">+3.51%</text>
<text class="t" font-size="7.67" x="1009.07" y="142.19" textLength="37.37" lengthAdjust="spacingAndGlyphs">CVHM2605</text>
<text class="t" font-size="7.67" x="1009.07" y="149.81" textLength="25.92" lengthAdjust="spacingAndGlyphs">-16.09%</text>
<text class="t" font-size="7.75" x="1062.2" y="142.03" textLength="33.73" lengthAdjust="spacingAndGlyphs">CFPT2529</text>
<text class="t" font-size="7.75" x="1062.2" y="149.59" textLength="22.55" lengthAdjust="spacingAndGlyphs">-6.45%</text>
<text class="t" font-size="7.7" x="1113.49" y="142.04" textLength="35.9" lengthAdjust="spacingAndGlyphs">CMSN2604</text>
<text class="t" font-size="7.7" x="1113.49" y="149.57" textLength="22.39" lengthAdjust="spacingAndGlyphs">-5.04%</text>
<text class="t" font-size="6.55" x="1163.87" y="142.71" textLength="31.56" lengthAdjust="spacingAndGlyphs">CVNM2602</text>
<text class="t" font-size="6.55" x="1163.87" y="148.7" textLength="19.04" lengthAdjust="spacingAndGlyphs">-4.69%</text>
<text class="t" font-size="6.39" x="1212.5" y="142.73" textLength="28.79" lengthAdjust="spacingAndGlyphs">CTCB2601</text>
<text class="t" font-size="6.39" x="1212.5" y="148.64" textLength="18.58" lengthAdjust="spacingAndGlyphs">-2.45%</text>
<text class="t" font-size="6.52" x="1260.26" y="142.72" textLength="29.75" lengthAdjust="spacingAndGlyphs">CACB2510</text>
<text class="t" font-size="6.52" x="1260.26" y="148.69" textLength="18.97" lengthAdjust="spacingAndGlyphs">-0.86%</text>
<text class="t" font-size="8.66" x="902.98" y="187.96" textLength="38.57" lengthAdjust="spacingAndGlyphs">CVPB2606</text>
<text class="t" font-size="8.66" x="902.98" y="195.84" textLength="29.27" lengthAdjust="spacingAndGlyphs">-10.56%</text>
<text class="t" font-size="7.42" x="956.09" y="188.6" textLength="38.09" lengthAdjust="spacingAndGlyphs">CMWG2608</text>
<text class="t" font-size="7.42" x="956.09" y="195.44" textLength="21.57" lengthAdjust="spacingAndGlyphs">-6.45%</text>
<text class="t" font-size="8.41" x="1008.11" y="187.99" textLength="37.01" lengthAdjust="spacingAndGlyphs">CLPB2601</text>
<text class="t" font-size="8.41" x="1008.11" y="195.75" textLength="24.45" lengthAdjust="spacingAndGlyphs">-5.38%</text>
<text class="t" font-size="7.43" x="1059.68" y="188.39" textLength="35.06" lengthAdjust="spacingAndGlyphs">CMBB2516</text>
<text class="t" font-size="7.43" x="1059.68" y="195.4" textLength="21.62" lengthAdjust="spacingAndGlyphs">-2.25%</text>
<text class="t" font-size="7.41" x="1110.2" y="188.39" textLength="36.1" lengthAdjust="spacingAndGlyphs">CVHM2523</text>
<text class="t" font-size="7.41" x="1110.2" y="195.38" textLength="23.2" lengthAdjust="spacingAndGlyphs">+0.95%</text>
<text class="t" font-size="7.26" x="1160.33" y="188.42" textLength="32.35" lengthAdjust="spacingAndGlyphs">CVPB2528</text>
<text class="t" font-size="7.26" x="1160.33" y="195.27" textLength="12.56" lengthAdjust="spacingAndGlyphs">-6%</text>
<text class="t" font-size="11" x="1209.95" y="190.91">…</text>
<text class="t" font-size="7.41" x="1258.47" y="188.39" textLength="32.64" lengthAdjust="spacingAndGlyphs">CLPB2602</text>
<text class="t" font-size="7.41" x="1258.47" y="195.39" textLength="21.56" lengthAdjust="spacingAndGlyphs">-1.29%</text>
<text class="t" font-size="7.3" x="945.89" y="228.08" textLength="33.27" lengthAdjust="spacingAndGlyphs">CACB2514</text>
<text class="t" font-size="7.3" x="945.89" y="234.73" textLength="21.22" lengthAdjust="spacingAndGlyphs">-3.66%</text>
<text class="t" font-size="7.25" x="993.91" y="228.09" textLength="32.3" lengthAdjust="spacingAndGlyphs">CVPB2605</text>
<text class="t" font-size="7.25" x="993.91" y="234.71" textLength="17.67" lengthAdjust="spacingAndGlyphs">-9.2%</text>
<text class="t" font-size="11" x="1041.7" y="230.56">…</text>
<text class="t" font-size="10.71" x="1087.85" y="230.54">…</text>
<text class="t" font-size="10.5" x="1132.35" y="230.52">…</text>
<text class="t" font-size="10.42" x="1175.85" y="230.51">…</text>
<text class="t" font-size="10.19" x="1219.1" y="230.5">…</text>
<text class="t" font-size="10.4" x="1262.1" y="230.51">…</text>
<text class="t" font-size="10.1" x="984.6" y="267.34">…</text>
<text class="t" font-size="9.96" x="1025.95" y="267.33">…</text>
<text class="t" font-size="9.87" x="1066.85" y="267.32">…</text>
<text class="t" font-size="9.93" x="1107.7" y="267.32">…</text>
<text class="t" font-size="9.72" x="1148.2" y="267.31">…</text>
<text class="t" font-size="9.51" x="1187.7" y="267.29">…</text>
<text class="t" font-size="9.41" x="1226.45" y="267.28">…</text>
<text class="t" font-size="9.3" x="1264.7" y="267.27">…</text>
<text class="t" font-size="8.97" x="1019.7" y="300.74">…</text>
<text class="t" font-size="8.88" x="1055.9" y="300.74">…</text>
<text class="t" font-size="8.8" x="1091.9" y="300.73">…</text>
<text class="t" font-size="8.32" x="1126.9" y="300.69" fill-opacity="0.72">…</text>
<text class="t" font-size="8.32" x="1162.1" y="300.69" fill-opacity="0.72">…</text>
<text class="t" font-size="8.23" x="1196.85" y="300.68" fill-opacity="0.71">…</text>
<text class="t" font-size="8.2" x="1231.6" y="300.68" fill-opacity="0.71">…</text>
<text class="t" font-size="8.23" x="1266.35" y="300.68" fill-opacity="0.71">…</text>
<text class="t" font-size="7.75" x="1052.05" y="329.84" fill-opacity="0.64">…</text>
<text class="t" font-size="7.18" x="1084.1" y="329.8" fill-opacity="0.56">…</text>
<text class="t" font-size="7.18" x="1115.9" y="329.8" fill-opacity="0.56">…</text>
<text class="t" font-size="7.24" x="1147.2" y="329.8" fill-opacity="0.57">…</text>
<text class="t" font-size="7.03" x="1178.35" y="329.78" fill-opacity="0.54">…</text>
<text class="t" font-size="7.09" x="1209.05" y="329.79" fill-opacity="0.54">…</text>
<text class="t" font-size="6.91" x="1239.35" y="329.77" fill-opacity="0.52">…</text>
<text class="t" font-size="6.61" x="1269.05" y="329.75" fill-opacity="0.47">…</text>
<text class="t" font-size="6.67" x="1079.25" y="356.05" fill-opacity="0.48">…</text>
<text class="t" font-size="6.55" x="1108.25" y="356.04" fill-opacity="0.47">…</text>
<text class="t" font-size="6.31" x="1136.65" y="356.02" fill-opacity="0.43">…</text>
<text class="t" font-size="6.31" x="1164.65" y="356.02" fill-opacity="0.43">…</text>
<text class="t" font-size="5.95" x="1192.05" y="355.99" fill-opacity="0.38">…</text>
<text class="t" font-size="5.68" x="1218.5" y="355.97" fill-opacity="0.34">…</text>
<text class="t" font-size="5.68" x="1244.7" y="355.97" fill-opacity="0.34">…</text>
<text class="t" font-size="5.65" x="1270.65" y="355.97" fill-opacity="0.33">…</text>
<text class="t" font-size="5.56" x="1102.9" y="379.06" fill-opacity="0.32">…</text>
<text class="t" font-size="5.38" x="1128.4" y="379.05" fill-opacity="0.30">…</text>
<text class="t" font-size="5.26" x="1153.8" y="379.04" fill-opacity="0.28">…</text>
<text class="t" font-size="5.17" x="1178.65" y="379.03" fill-opacity="0.26">…</text>
<text class="t" font-size="5.02" x="1202.7" y="379.02" fill-opacity="0.24">…</text>
<text class="t" font-size="4.99" x="1226.45" y="379.01" fill-opacity="0.24">…</text>
<text class="t" font-size="4.63" x="1249.65" y="378.98" fill-opacity="0.19">…</text>
<text class="t" font-size="4.63" x="1272.35" y="378.98" fill-opacity="0.19">…</text>
<text class="t" font-size="4.69" x="1123.45" y="399.19" fill-opacity="0.19">…</text>
<text class="t" font-size="4.63" x="1145.95" y="399.18" fill-opacity="0.19">…</text>
<text class="t" font-size="4.21" x="1168.15" y="399.15" fill-opacity="0.19">…</text>
<text class="t" font-size="4.21" x="1189.15" y="399.15" fill-opacity="0.19">…</text>
<text class="t" font-size="4.21" x="1210.25" y="399.15" fill-opacity="0.19">…</text>
<text class="t" font-size="4.09" x="1231.45" y="399.14" fill-opacity="0.19">…</text>
<text class="t" font-size="4.03" x="1252.65" y="399.13" fill-opacity="0.19">…</text>
<text class="t" font-size="4.06" x="1273.3" y="399.14" fill-opacity="0.19">…</text>
<text class="t" font-size="4.15" x="1122.55" y="416.94" fill-opacity="0.19">…</text>
<text class="t" font-size="4.09" x="1143.55" y="416.94" fill-opacity="0.19">…</text>
<text class="t" font-size="3.79" x="1163.85" y="416.91" fill-opacity="0.19">…</text>
<text class="t" font-size="3.61" x="1183.25" y="416.9" fill-opacity="0.19">…</text>
<text class="t" font-size="3.55" x="1202.15" y="416.89" fill-opacity="0.19">…</text>
<text class="t" font-size="3.43" x="1220.85" y="416.88" fill-opacity="0.19">…</text>
<text class="t" font-size="3.43" x="1239.55" y="416.88" fill-opacity="0.19">…</text>
<text class="t" font-size="3.25" x="1257.75" y="416.87" fill-opacity="0.19">…</text>
<text class="t" font-size="3" x="1275.1" y="416.85" fill-opacity="0.19">…</text>
<text class="t" font-size="3.28" x="1138.6" y="432.67" fill-opacity="0.19">…</text>
<text class="t" font-size="3.31" x="1156.75" y="432.67" fill-opacity="0.19">…</text>
<text class="t" font-size="3.25" x="1174.65" y="432.67" fill-opacity="0.19">…</text>
<text class="t" font-size="3.07" x="1192.25" y="432.65" fill-opacity="0.19">…</text>
<text class="t" font-size="3.01" x="1209.85" y="432.65" fill-opacity="0.19">…</text>
<text class="t" font-size="3" x="1226.6" y="432.65" fill-opacity="0.19">…</text>
<text class="t" font-size="3" x="1243.2" y="432.65" fill-opacity="0.19">…</text>
<text class="t" font-size="3" x="1259.5" y="432.65" fill-opacity="0.19">…</text>
<text class="t" font-size="3" x="1275.5" y="432.65" fill-opacity="0.19">…</text>
<rect x="1147.9" y="452.9" width="132.2" height="123.2" rx="3" fill="url(#glogo)" stroke="#e2e2e2" stroke-width="1"/>
<defs><clipPath id="iclip"><rect x="18" y="18" width="539" height="539" rx="34"/></clipPath></defs>
<g transform="translate(1186,482) scale(0.0967)" clip-path="url(#iclip)">
<rect x="18" y="18" width="539" height="539" fill="#fff"/>
<g fill="#dd1100">
<polygon fill="#c8c8c8" points="0,0 148,0 150,18 183,100 192,160 185,210 145,275 122,290 0,302"/>
<polygon points="158,0 342,0 332,88 215,108"/>
<polygon points="362,0 440,0 458,72 432,150 395,156 368,128 352,72"/>
<polygon fill="#c8c8c8" points="462,0 580,0 580,68 482,70"/>
<polygon points="478,94 580,88 580,180 465,166 456,148"/>
<polygon points="215,132 335,115 372,162 348,216 210,208"/>
<polygon points="355,210 395,178 445,180 470,210 450,338 385,346"/>
<polygon points="492,204 580,198 580,388 478,352"/>
<polygon points="163,300 208,242 342,232 378,348 292,422"/>
<polygon fill="#c8c8c8" points="292,446 330,404 410,362 480,364 580,414 580,580 292,580"/>
<polygon points="0,330 132,310 186,358 150,428 0,428"/>
<polygon points="0,450 130,450 165,580 0,580"/>
<polygon points="155,438 198,382 272,446 270,580 178,580"/>
</g>
</g>
<text x="1214" y="545.7" font-family="Liberation Sans, sans-serif" font-size="12" fill="#d41a14" text-anchor="middle" textLength="51.4" lengthAdjust="spacingAndGlyphs">FoamTree</text>
</svg>
</body></html>
